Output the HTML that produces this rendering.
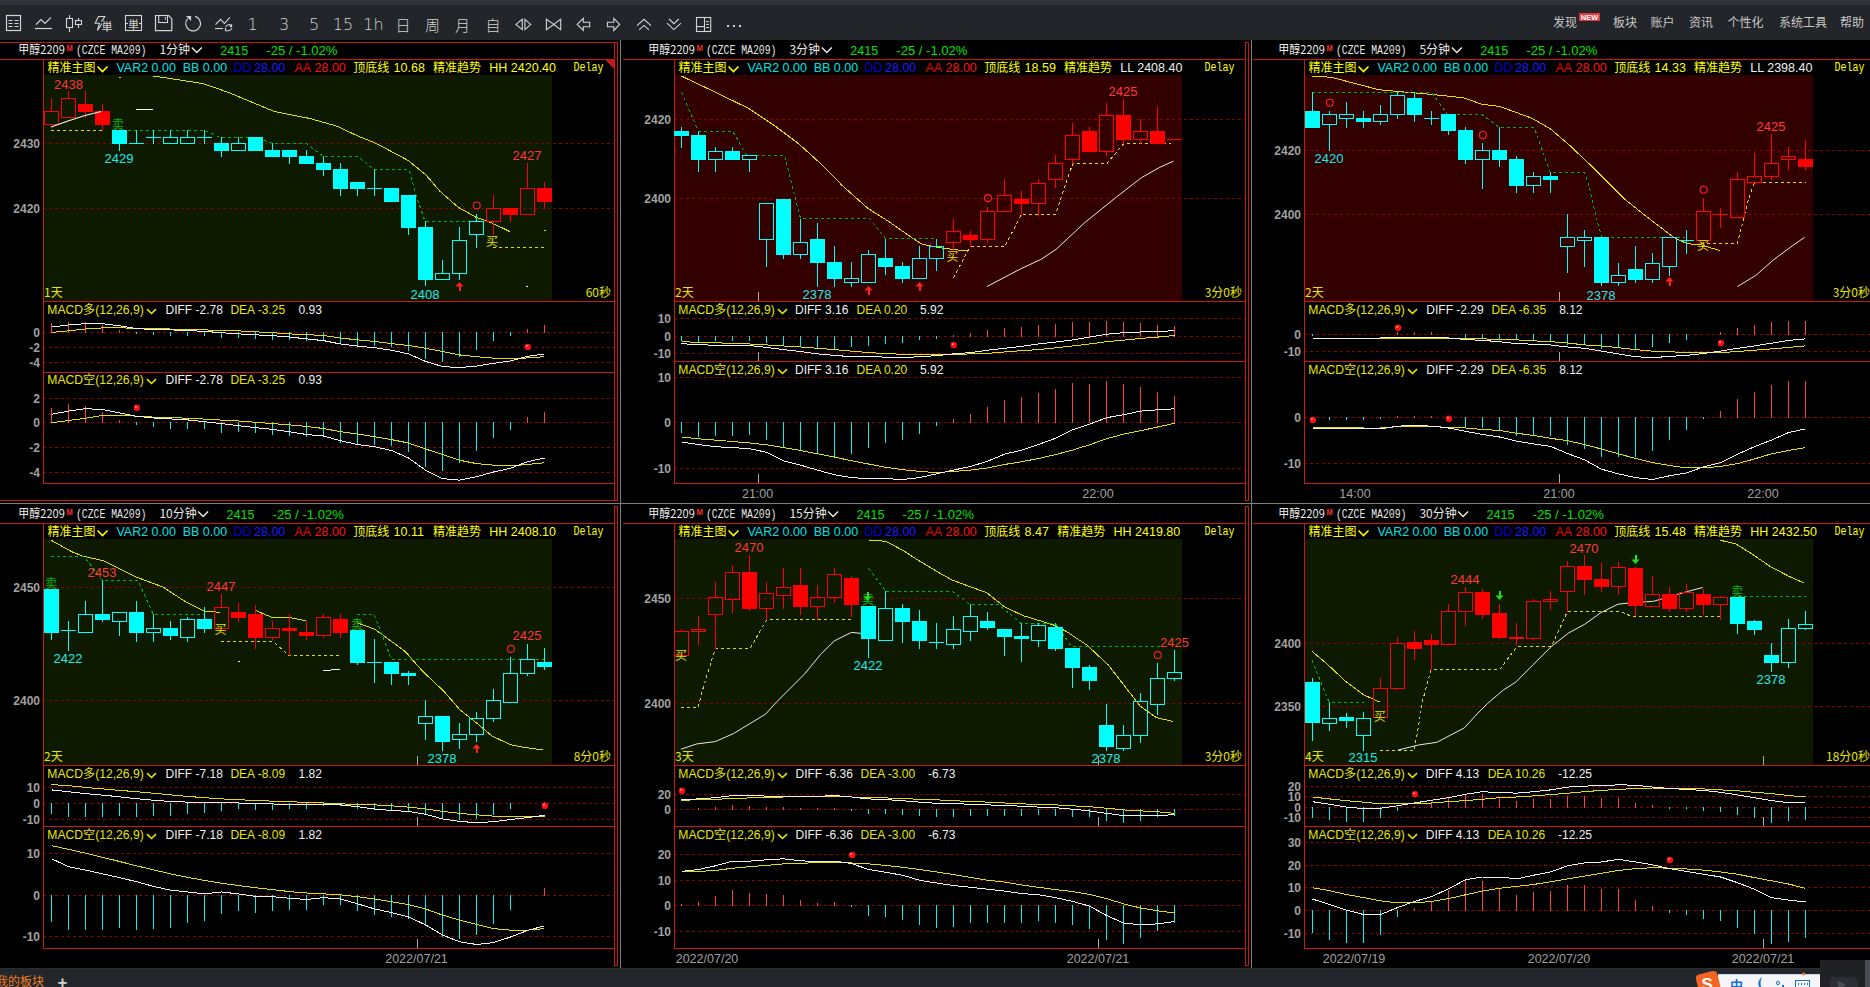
<!DOCTYPE html>
<html><head><meta charset="utf-8"><style>
html,body{margin:0;padding:0;background:#000;overflow:hidden;width:1870px;height:987px}
svg{display:block}
text{white-space:pre}
</style></head><body>
<svg width="1870" height="987" viewBox="0 0 1870 987" shape-rendering="crispEdges">
<rect x="0" y="0" width="1870" height="40" fill="#22252a"/>
<rect x="0" y="0" width="1870" height="5" fill="#2f3238"/>
<rect x="6.5" y="15.5" width="14" height="15" fill="none" stroke="#d4d4d4" stroke-width="1.2" shape-rendering="geometricPrecision"/>
<line x1="8.5" y1="20.5" x2="12.5" y2="20.5" stroke="#d4d4d4" stroke-width="1" shape-rendering="geometricPrecision"/>
<line x1="14.5" y1="20.5" x2="18.5" y2="20.5" stroke="#d4d4d4" stroke-width="1" shape-rendering="geometricPrecision"/>
<line x1="8.5" y1="23.5" x2="12.5" y2="23.5" stroke="#d4d4d4" stroke-width="1" shape-rendering="geometricPrecision"/>
<line x1="14.5" y1="23.5" x2="18.5" y2="23.5" stroke="#d4d4d4" stroke-width="1" shape-rendering="geometricPrecision"/>
<line x1="8.5" y1="26.5" x2="12.5" y2="26.5" stroke="#d4d4d4" stroke-width="1" shape-rendering="geometricPrecision"/>
<line x1="14.5" y1="26.5" x2="18.5" y2="26.5" stroke="#d4d4d4" stroke-width="1" shape-rendering="geometricPrecision"/>
<polyline points="36,24.5 41,19.5 45,23.5 51,17.3" fill="none" stroke="#d4d4d4" stroke-width="1.2" shape-rendering="geometricPrecision" stroke-linejoin="miter"/>
<line x1="35" y1="28.5" x2="52" y2="28.5" stroke="#d4d4d4" stroke-width="1.2" shape-rendering="geometricPrecision"/>
<rect x="66.5" y="18.5" width="6" height="9" fill="none" stroke="#d4d4d4" stroke-width="1.1" shape-rendering="geometricPrecision"/>
<line x1="69.5" y1="15" x2="69.5" y2="18.5" stroke="#d4d4d4" stroke-width="1.1" shape-rendering="geometricPrecision"/>
<line x1="69.5" y1="27.5" x2="69.5" y2="32" stroke="#d4d4d4" stroke-width="1.1" shape-rendering="geometricPrecision"/>
<rect x="75.5" y="20.5" width="6" height="4" fill="none" stroke="#d4d4d4" stroke-width="1.1" shape-rendering="geometricPrecision"/>
<line x1="78.5" y1="18" x2="78.5" y2="20.5" stroke="#d4d4d4" stroke-width="1.1" shape-rendering="geometricPrecision"/>
<line x1="78.5" y1="24.5" x2="78.5" y2="28" stroke="#d4d4d4" stroke-width="1.1" shape-rendering="geometricPrecision"/>
<polygon points="98.5,16.5 104.8,16.5 101.8,21.2 103.5,21.2 97.4,30.5 99.4,23.3 95.2,23.3" fill="none" stroke="#d4d4d4" stroke-width="1.1" shape-rendering="geometricPrecision" stroke-linejoin="miter"/>
<rect x="101.5" y="20.5" width="10" height="12" fill="#22252a"/>
<text x="101.5" y="31" fill="#d4d4d4" font-size="11" font-family='"Noto Sans CJK SC","WenQuanYi Zen Hei",sans-serif'>単</text>
<rect x="125.5" y="15.5" width="16" height="15" fill="none" stroke="#d4d4d4" stroke-width="1.1" shape-rendering="geometricPrecision"/>
<line x1="125.5" y1="23.5" x2="128" y2="23.5" stroke="#d4d4d4" stroke-width="1" shape-rendering="geometricPrecision"/>
<line x1="139" y1="23.5" x2="141.5" y2="23.5" stroke="#d4d4d4" stroke-width="1" shape-rendering="geometricPrecision"/>
<text x="128" y="28.5" fill="#d4d4d4" font-size="11" font-family='"Noto Sans CJK SC","WenQuanYi Zen Hei",sans-serif'>単</text>
<polygon points="155.5,15.5 168.6,15.5 171.8,18.7 171.8,30.7 155.5,30.7" fill="none" stroke="#d4d4d4" stroke-width="1.2" shape-rendering="geometricPrecision" stroke-linejoin="miter"/>
<rect x="158.7" y="15.5" width="8.8" height="7" fill="none" stroke="#d4d4d4" stroke-width="1.1" shape-rendering="geometricPrecision"/>
<line x1="165.4" y1="17" x2="165.4" y2="19.8" stroke="#d4d4d4" stroke-width="1" shape-rendering="geometricPrecision"/>
<path d="M195.1,16.4 A7.4,7.4 0 1 1 187.6,18.6" fill="none" stroke="#d4d4d4" stroke-width="1.2" shape-rendering="geometricPrecision"/>
<polygon points="185.9,15.9 191.1,15.9 191.1,21.1" fill="#d4d4d4" shape-rendering="geometricPrecision"/>
<polyline points="215.5,24.6 220.5,19.3 224.5,23.5 229.9,17.4" fill="none" stroke="#d4d4d4" stroke-width="1.1" shape-rendering="geometricPrecision" stroke-linejoin="miter"/>
<line x1="215" y1="28.5" x2="223" y2="28.5" stroke="#d4d4d4" stroke-width="1.1" shape-rendering="geometricPrecision"/>
<path d="M225.6,26.6 Q228.5,23.2 231.4,25.8" fill="none" stroke="#d4d4d4" stroke-width="1.1" shape-rendering="geometricPrecision"/>
<polygon points="232.1,23.8 232.1,27.4 229.3,26.6" fill="#d4d4d4" shape-rendering="geometricPrecision"/>
<path d="M225.5,27.8 L225.5,30.7 L228.8,30.7 Q230.8,30.4 232,28.3" fill="none" stroke="#d4d4d4" stroke-width="1.1" shape-rendering="geometricPrecision"/>
<text x="252.5" y="30" fill="#d4d4d4" font-size="16" font-family='"DejaVu Sans","Liberation Sans",sans-serif' text-anchor="middle" font-weight="200">1</text>
<text x="284" y="30" fill="#d4d4d4" font-size="16" font-family='"DejaVu Sans","Liberation Sans",sans-serif' text-anchor="middle" font-weight="200">3</text>
<text x="314" y="30" fill="#d4d4d4" font-size="16" font-family='"DejaVu Sans","Liberation Sans",sans-serif' text-anchor="middle" font-weight="200">5</text>
<text x="343" y="30" fill="#d4d4d4" font-size="16" font-family='"DejaVu Sans","Liberation Sans",sans-serif' text-anchor="middle" font-weight="200">15</text>
<text x="373.5" y="30" fill="#d4d4d4" font-size="16" font-family='"DejaVu Sans","Liberation Sans",sans-serif' text-anchor="middle" font-weight="200">1h</text>
<text x="403" y="30.6" fill="#d4d4d4" font-size="15" font-family='"Noto Sans CJK SC","WenQuanYi Zen Hei",sans-serif' text-anchor="middle" font-weight="300">日</text>
<text x="432.5" y="30.6" fill="#d4d4d4" font-size="15" font-family='"Noto Sans CJK SC","WenQuanYi Zen Hei",sans-serif' text-anchor="middle" font-weight="300">周</text>
<text x="462.5" y="30.6" fill="#d4d4d4" font-size="15" font-family='"Noto Sans CJK SC","WenQuanYi Zen Hei",sans-serif' text-anchor="middle" font-weight="300">月</text>
<text x="493" y="30.6" fill="#d4d4d4" font-size="15" font-family='"Noto Sans CJK SC","WenQuanYi Zen Hei",sans-serif' text-anchor="middle" font-weight="300">自</text>
<polygon points="522.3,19.3 515.9,24.4 522.3,29.6" fill="none" stroke="#d4d4d4" stroke-width="1.1" shape-rendering="geometricPrecision" stroke-linejoin="miter"/>
<polygon points="524.9,19.3 530.7,24.4 524.9,29.6" fill="none" stroke="#d4d4d4" stroke-width="1.1" shape-rendering="geometricPrecision" stroke-linejoin="miter"/>
<polygon points="546.4,19.3 553.8,24.4 546.4,29.6" fill="none" stroke="#d4d4d4" stroke-width="1.1" shape-rendering="geometricPrecision" stroke-linejoin="miter"/>
<polygon points="560.7,19.3 553.8,24.4 560.7,29.6" fill="none" stroke="#d4d4d4" stroke-width="1.1" shape-rendering="geometricPrecision" stroke-linejoin="miter"/>
<polygon points="577.2,24.4 583.3,18.3 583.3,22.2 589.7,22.2 589.7,26.8 583.3,26.8 583.3,30.5" fill="none" stroke="#d4d4d4" stroke-width="1.1" shape-rendering="geometricPrecision" stroke-linejoin="miter"/>
<polygon points="619.6,24.4 613.8,18.3 613.8,22.2 607.4,22.2 607.4,26.8 613.8,26.8 613.8,30.5" fill="none" stroke="#d4d4d4" stroke-width="1.1" shape-rendering="geometricPrecision" stroke-linejoin="miter"/>
<polyline points="637,25.7 644,19.3 651,25.7" fill="none" stroke="#d4d4d4" stroke-width="1.1" shape-rendering="geometricPrecision" stroke-linejoin="miter"/>
<polyline points="639.2,29.9 644,25.4 648.9,29.9" fill="none" stroke="#d4d4d4" stroke-width="1.1" shape-rendering="geometricPrecision" stroke-linejoin="miter"/>
<polyline points="669.1,19 673.9,23.7 678.8,19" fill="none" stroke="#d4d4d4" stroke-width="1.1" shape-rendering="geometricPrecision" stroke-linejoin="miter"/>
<polyline points="667,23.2 673.9,29.6 681,23.2" fill="none" stroke="#d4d4d4" stroke-width="1.1" shape-rendering="geometricPrecision" stroke-linejoin="miter"/>
<rect x="696.5" y="17.5" width="14.2" height="14" fill="none" stroke="#d4d4d4" stroke-width="1.1" shape-rendering="geometricPrecision"/>
<line x1="704.5" y1="17.5" x2="704.5" y2="31.5" stroke="#d4d4d4" stroke-width="1.1" shape-rendering="geometricPrecision"/>
<line x1="696.5" y1="26.6" x2="704.5" y2="26.6" stroke="#d4d4d4" stroke-width="1.1" shape-rendering="geometricPrecision"/>
<line x1="706" y1="21.6" x2="709" y2="21.6" stroke="#d4d4d4" stroke-width="1" shape-rendering="geometricPrecision"/>
<line x1="706" y1="24.4" x2="709" y2="24.4" stroke="#d4d4d4" stroke-width="1" shape-rendering="geometricPrecision"/>
<line x1="706" y1="27.5" x2="709" y2="27.5" stroke="#d4d4d4" stroke-width="1" shape-rendering="geometricPrecision"/>
<rect x="726.5999999999999" y="24.7" width="2.4" height="2.4" fill="#d4d4d4"/>
<rect x="732.6999999999999" y="24.7" width="2.4" height="2.4" fill="#d4d4d4"/>
<rect x="738.8" y="24.7" width="2.4" height="2.4" fill="#d4d4d4"/>
<text x="1553" y="27" fill="#c8c8c8" font-size="12" font-family='"Noto Sans CJK SC","WenQuanYi Zen Hei",sans-serif'>发现</text>
<text x="1613" y="27" fill="#c8c8c8" font-size="12" font-family='"Noto Sans CJK SC","WenQuanYi Zen Hei",sans-serif'>板块</text>
<text x="1650.5" y="27" fill="#c8c8c8" font-size="12" font-family='"Noto Sans CJK SC","WenQuanYi Zen Hei",sans-serif'>账户</text>
<text x="1689" y="27" fill="#c8c8c8" font-size="12" font-family='"Noto Sans CJK SC","WenQuanYi Zen Hei",sans-serif'>资讯</text>
<text x="1727.5" y="27" fill="#c8c8c8" font-size="12" font-family='"Noto Sans CJK SC","WenQuanYi Zen Hei",sans-serif'>个性化</text>
<text x="1779" y="27" fill="#c8c8c8" font-size="12" font-family='"Noto Sans CJK SC","WenQuanYi Zen Hei",sans-serif'>系统工具</text>
<text x="1840" y="27" fill="#c8c8c8" font-size="12" font-family='"Noto Sans CJK SC","WenQuanYi Zen Hei",sans-serif'>帮助</text>
<rect x="1579" y="12.5" width="21" height="8" fill="#e0393e"/>
<text x="1589.5" y="19.6" fill="#ffffff" font-size="7.5" font-family='"Liberation Sans","Noto Sans CJK SC",sans-serif' text-anchor="middle" font-weight="bold">NEW</text>
<rect x="44" y="75" width="508" height="226" fill="#0e1a00"/>
<line x1="43" y1="143.5" x2="614" y2="143.5" stroke="#8c0000" stroke-width="1" stroke-dasharray="3,3"/>
<text x="40" y="148.0" fill="#a0a0a0" font-size="12" font-family='"Liberation Sans","Noto Sans CJK SC",sans-serif' text-anchor="end" font-weight="bold">2430</text>
<line x1="43" y1="208.5" x2="614" y2="208.5" stroke="#8c0000" stroke-width="1" stroke-dasharray="3,3"/>
<text x="40" y="212.5" fill="#a0a0a0" font-size="12" font-family='"Liberation Sans","Noto Sans CJK SC",sans-serif' text-anchor="end" font-weight="bold">2420</text>
<line x1="43" y1="332.5" x2="614" y2="332.5" stroke="#8c0000" stroke-width="1" stroke-dasharray="3,3"/>
<text x="40" y="336.5" fill="#a0a0a0" font-size="12" font-family='"Liberation Sans","Noto Sans CJK SC",sans-serif' text-anchor="end" font-weight="bold">0</text>
<line x1="43" y1="347.5" x2="614" y2="347.5" stroke="#8c0000" stroke-width="1" stroke-dasharray="3,3"/>
<text x="40" y="351.9" fill="#a0a0a0" font-size="12" font-family='"Liberation Sans","Noto Sans CJK SC",sans-serif' text-anchor="end" font-weight="bold">-2</text>
<line x1="43" y1="362.5" x2="614" y2="362.5" stroke="#8c0000" stroke-width="1" stroke-dasharray="3,3"/>
<text x="40" y="366.8" fill="#a0a0a0" font-size="12" font-family='"Liberation Sans","Noto Sans CJK SC",sans-serif' text-anchor="end" font-weight="bold">-4</text>
<text x="47.3" y="314.0" fill="#e6e600" font-size="12" font-family='"Liberation Sans","Noto Sans CJK SC",sans-serif' textLength="96.5" lengthAdjust="spacingAndGlyphs">MACD多(12,26,9)</text>
<polyline points="147,309.2 151.5,313.5 156,309.2" fill="none" stroke="#e6e600" stroke-width="1.6" shape-rendering="geometricPrecision"/>
<text x="165.5" y="314.0" fill="#f0f0f0" font-size="12" font-family='"Liberation Sans","Noto Sans CJK SC",sans-serif'>DIFF -2.78</text>
<text x="230.4" y="314.0" fill="#e6e600" font-size="12" font-family='"Liberation Sans","Noto Sans CJK SC",sans-serif'>DEA -3.25</text>
<text x="298.5" y="314.0" fill="#f0f0f0" font-size="12" font-family='"Liberation Sans","Noto Sans CJK SC",sans-serif'>0.93</text>
<line x1="43" y1="398.5" x2="614" y2="398.5" stroke="#8c0000" stroke-width="1" stroke-dasharray="3,3"/>
<text x="40" y="402.5" fill="#a0a0a0" font-size="12" font-family='"Liberation Sans","Noto Sans CJK SC",sans-serif' text-anchor="end" font-weight="bold">2</text>
<line x1="43" y1="422.5" x2="614" y2="422.5" stroke="#8c0000" stroke-width="1" stroke-dasharray="3,3"/>
<text x="40" y="427.0" fill="#a0a0a0" font-size="12" font-family='"Liberation Sans","Noto Sans CJK SC",sans-serif' text-anchor="end" font-weight="bold">0</text>
<line x1="43" y1="447.5" x2="614" y2="447.5" stroke="#8c0000" stroke-width="1" stroke-dasharray="3,3"/>
<text x="40" y="452.2" fill="#a0a0a0" font-size="12" font-family='"Liberation Sans","Noto Sans CJK SC",sans-serif' text-anchor="end" font-weight="bold">-2</text>
<line x1="43" y1="472.5" x2="614" y2="472.5" stroke="#8c0000" stroke-width="1" stroke-dasharray="3,3"/>
<text x="40" y="477.1" fill="#a0a0a0" font-size="12" font-family='"Liberation Sans","Noto Sans CJK SC",sans-serif' text-anchor="end" font-weight="bold">-4</text>
<text x="47.3" y="384.0" fill="#e6e600" font-size="12" font-family='"Liberation Sans","Noto Sans CJK SC",sans-serif' textLength="96.5" lengthAdjust="spacingAndGlyphs">MACD空(12,26,9)</text>
<polyline points="147,379.2 151.5,383.5 156,379.2" fill="none" stroke="#e6e600" stroke-width="1.6" shape-rendering="geometricPrecision"/>
<text x="165.5" y="384.0" fill="#f0f0f0" font-size="12" font-family='"Liberation Sans","Noto Sans CJK SC",sans-serif'>DIFF -2.78</text>
<text x="230.4" y="384.0" fill="#e6e600" font-size="12" font-family='"Liberation Sans","Noto Sans CJK SC",sans-serif'>DEA -3.25</text>
<text x="298.5" y="384.0" fill="#f0f0f0" font-size="12" font-family='"Liberation Sans","Noto Sans CJK SC",sans-serif'>0.93</text>
<text x="18.3" y="54" fill="#e8e8e8" font-size="12" font-family='"Noto Sans CJK SC","WenQuanYi Zen Hei",sans-serif' textLength="46.5" lengthAdjust="spacingAndGlyphs">甲醇2209</text>
<text x="66.6" y="50.7" fill="#ff2a2a" font-size="9.5" font-family='"Liberation Sans","Noto Sans CJK SC",sans-serif' font-weight="bold" textLength="6.2" lengthAdjust="spacingAndGlyphs">M</text>
<text x="76" y="54" fill="#e8e8e8" font-size="12" font-family='"Liberation Mono","Noto Sans CJK SC",monospace' textLength="70.5" lengthAdjust="spacingAndGlyphs">(CZCE MA209)</text>
<text x="159.4" y="54" fill="#e8e8e8" font-size="12" font-family='"Noto Sans CJK SC","WenQuanYi Zen Hei",sans-serif'>1分钟</text>
<polyline points="191.8,47.5 196.8,52.5 201.8,47.5" fill="none" stroke="#e8e8e8" stroke-width="1.5" shape-rendering="geometricPrecision"/>
<text x="220.3" y="54.5" fill="#00e000" font-size="12.5" font-family='"Liberation Sans","Noto Sans CJK SC",sans-serif'>2415</text>
<text x="266.3" y="54.5" fill="#00e000" font-size="12.5" font-family='"Liberation Sans","Noto Sans CJK SC",sans-serif' textLength="71.2" lengthAdjust="spacingAndGlyphs">-25 / -1.02%</text>
<text x="47.6" y="71.8" fill="#ffff00" font-size="12" font-family='"Noto Sans CJK SC","WenQuanYi Zen Hei",sans-serif'>精准主图</text>
<polyline points="97.5,66.5 102.5,71.5 107.5,66.5" fill="none" stroke="#ffff00" stroke-width="1.6" shape-rendering="geometricPrecision"/>
<text x="116.4" y="71.8" fill="#00e0e0" font-size="12.5" font-family='"Liberation Sans","Noto Sans CJK SC",sans-serif'>VAR2 0.00</text>
<text x="182.7" y="71.8" fill="#00e0e0" font-size="12.5" font-family='"Liberation Sans","Noto Sans CJK SC",sans-serif'>BB 0.00</text>
<text x="233.6" y="71.8" fill="#0000d8" font-size="12.5" font-family='"Liberation Sans","Noto Sans CJK SC",sans-serif'>DD</text>
<text x="254" y="71.8" fill="#1a1aff" font-size="12.5" font-family='"Liberation Sans","Noto Sans CJK SC",sans-serif'>28.00</text>
<text x="294.5" y="71.8" fill="#e80000" font-size="12.5" font-family='"Liberation Sans","Noto Sans CJK SC",sans-serif'>AA</text>
<text x="314.5" y="71.8" fill="#ff1010" font-size="12.5" font-family='"Liberation Sans","Noto Sans CJK SC",sans-serif'>28.00</text>
<text x="353.2" y="71.8" fill="#ffff00" font-size="12" font-family='"Noto Sans CJK SC","WenQuanYi Zen Hei",sans-serif'>顶底线</text>
<text x="393.6" y="71.8" fill="#ffff00" font-size="12.5" font-family='"Liberation Sans","Noto Sans CJK SC",sans-serif'>10.68</text>
<text x="433" y="71.8" fill="#ffff00" font-size="12" font-family='"Noto Sans CJK SC","WenQuanYi Zen Hei",sans-serif'>精准趋势</text>
<text x="489.3" y="71.8" fill="#ffff00" font-size="12.5" font-family='"Liberation Sans","Noto Sans CJK SC",sans-serif'>HH 2420.40</text>
<text x="573.5" y="71.3" fill="#ffff00" font-size="12" font-family='"Liberation Mono","Noto Sans CJK SC",monospace' textLength="30" lengthAdjust="spacingAndGlyphs">Delay</text>
<polygon points="605,60 614,60 614,69" fill="#c81810"/>
<line x1="0" y1="59.5" x2="614" y2="59.5" stroke="#c81810" stroke-width="1"/>
<line x1="43" y1="301.5" x2="614" y2="301.5" stroke="#c81810" stroke-width="1"/>
<line x1="43" y1="372.5" x2="614" y2="372.5" stroke="#c81810" stroke-width="1"/>
<line x1="43" y1="483.5" x2="614" y2="483.5" stroke="#c81810" stroke-width="1"/>
<line x1="43.5" y1="59" x2="43.5" y2="483" stroke="#c81810" stroke-width="1"/>
<line x1="614.5" y1="42" x2="614.5" y2="501" stroke="#c81810" stroke-width="1"/>
<line x1="617.5" y1="42" x2="617.5" y2="501" stroke="#c81810" stroke-width="1"/>
<line x1="614" y1="42.5" x2="618" y2="42.5" stroke="#c81810" stroke-width="1"/>
<line x1="614" y1="500.5" x2="618" y2="500.5" stroke="#c81810" stroke-width="1"/>
<text x="44" y="297" fill="#e6e600" font-size="12" font-family='"Noto Sans CJK SC","WenQuanYi Zen Hei",sans-serif'>1天</text>
<text x="611" y="297" fill="#e6e600" font-size="12" font-family='"Noto Sans CJK SC","WenQuanYi Zen Hei",sans-serif' text-anchor="end">60秒</text>
<rect x="675" y="75" width="506.5" height="226" fill="#330000"/>
<line x1="674" y1="119.5" x2="1245" y2="119.5" stroke="#8c0000" stroke-width="1" stroke-dasharray="3,3"/>
<text x="671" y="124.0" fill="#a0a0a0" font-size="12" font-family='"Liberation Sans","Noto Sans CJK SC",sans-serif' text-anchor="end" font-weight="bold">2420</text>
<line x1="674" y1="198.5" x2="1245" y2="198.5" stroke="#8c0000" stroke-width="1" stroke-dasharray="3,3"/>
<text x="671" y="203.0" fill="#a0a0a0" font-size="12" font-family='"Liberation Sans","Noto Sans CJK SC",sans-serif' text-anchor="end" font-weight="bold">2400</text>
<line x1="674" y1="318.5" x2="1245" y2="318.5" stroke="#8c0000" stroke-width="1" stroke-dasharray="3,3"/>
<text x="671" y="322.8" fill="#a0a0a0" font-size="12" font-family='"Liberation Sans","Noto Sans CJK SC",sans-serif' text-anchor="end" font-weight="bold">10</text>
<line x1="674" y1="336.5" x2="1245" y2="336.5" stroke="#8c0000" stroke-width="1" stroke-dasharray="3,3"/>
<text x="671" y="341.0" fill="#a0a0a0" font-size="12" font-family='"Liberation Sans","Noto Sans CJK SC",sans-serif' text-anchor="end" font-weight="bold">0</text>
<line x1="674" y1="353.5" x2="1245" y2="353.5" stroke="#8c0000" stroke-width="1" stroke-dasharray="3,3"/>
<text x="671" y="357.9" fill="#a0a0a0" font-size="12" font-family='"Liberation Sans","Noto Sans CJK SC",sans-serif' text-anchor="end" font-weight="bold">-10</text>
<text x="678.3" y="314.0" fill="#e6e600" font-size="12" font-family='"Liberation Sans","Noto Sans CJK SC",sans-serif' textLength="96.5" lengthAdjust="spacingAndGlyphs">MACD多(12,26,9)</text>
<polyline points="778,309.2 782.5,313.5 787,309.2" fill="none" stroke="#e6e600" stroke-width="1.6" shape-rendering="geometricPrecision"/>
<text x="795" y="314.0" fill="#f0f0f0" font-size="12" font-family='"Liberation Sans","Noto Sans CJK SC",sans-serif'>DIFF 3.16</text>
<text x="856.6" y="314.0" fill="#e6e600" font-size="12" font-family='"Liberation Sans","Noto Sans CJK SC",sans-serif'>DEA 0.20</text>
<text x="920" y="314.0" fill="#f0f0f0" font-size="12" font-family='"Liberation Sans","Noto Sans CJK SC",sans-serif'>5.92</text>
<line x1="674" y1="377.5" x2="1245" y2="377.5" stroke="#8c0000" stroke-width="1" stroke-dasharray="3,3"/>
<text x="671" y="382.0" fill="#a0a0a0" font-size="12" font-family='"Liberation Sans","Noto Sans CJK SC",sans-serif' text-anchor="end" font-weight="bold">10</text>
<line x1="674" y1="422.5" x2="1245" y2="422.5" stroke="#8c0000" stroke-width="1" stroke-dasharray="3,3"/>
<text x="671" y="426.9" fill="#a0a0a0" font-size="12" font-family='"Liberation Sans","Noto Sans CJK SC",sans-serif' text-anchor="end" font-weight="bold">0</text>
<line x1="674" y1="468.5" x2="1245" y2="468.5" stroke="#8c0000" stroke-width="1" stroke-dasharray="3,3"/>
<text x="671" y="473.0" fill="#a0a0a0" font-size="12" font-family='"Liberation Sans","Noto Sans CJK SC",sans-serif' text-anchor="end" font-weight="bold">-10</text>
<text x="678.3" y="374.0" fill="#e6e600" font-size="12" font-family='"Liberation Sans","Noto Sans CJK SC",sans-serif' textLength="96.5" lengthAdjust="spacingAndGlyphs">MACD空(12,26,9)</text>
<polyline points="778,369.2 782.5,373.5 787,369.2" fill="none" stroke="#e6e600" stroke-width="1.6" shape-rendering="geometricPrecision"/>
<text x="795" y="374.0" fill="#f0f0f0" font-size="12" font-family='"Liberation Sans","Noto Sans CJK SC",sans-serif'>DIFF 3.16</text>
<text x="856.6" y="374.0" fill="#e6e600" font-size="12" font-family='"Liberation Sans","Noto Sans CJK SC",sans-serif'>DEA 0.20</text>
<text x="920" y="374.0" fill="#f0f0f0" font-size="12" font-family='"Liberation Sans","Noto Sans CJK SC",sans-serif'>5.92</text>
<text x="648.3" y="54" fill="#e8e8e8" font-size="12" font-family='"Noto Sans CJK SC","WenQuanYi Zen Hei",sans-serif' textLength="46.5" lengthAdjust="spacingAndGlyphs">甲醇2209</text>
<text x="696.6" y="50.7" fill="#ff2a2a" font-size="9.5" font-family='"Liberation Sans","Noto Sans CJK SC",sans-serif' font-weight="bold" textLength="6.2" lengthAdjust="spacingAndGlyphs">M</text>
<text x="706" y="54" fill="#e8e8e8" font-size="12" font-family='"Liberation Mono","Noto Sans CJK SC",monospace' textLength="70.5" lengthAdjust="spacingAndGlyphs">(CZCE MA209)</text>
<text x="789.4" y="54" fill="#e8e8e8" font-size="12" font-family='"Noto Sans CJK SC","WenQuanYi Zen Hei",sans-serif'>3分钟</text>
<polyline points="821.8,47.5 826.8,52.5 831.8,47.5" fill="none" stroke="#e8e8e8" stroke-width="1.5" shape-rendering="geometricPrecision"/>
<text x="850.3" y="54.5" fill="#00e000" font-size="12.5" font-family='"Liberation Sans","Noto Sans CJK SC",sans-serif'>2415</text>
<text x="896.3" y="54.5" fill="#00e000" font-size="12.5" font-family='"Liberation Sans","Noto Sans CJK SC",sans-serif' textLength="71.2" lengthAdjust="spacingAndGlyphs">-25 / -1.02%</text>
<text x="678.6" y="71.8" fill="#ffff00" font-size="12" font-family='"Noto Sans CJK SC","WenQuanYi Zen Hei",sans-serif'>精准主图</text>
<polyline points="728.5,66.5 733.5,71.5 738.5,66.5" fill="none" stroke="#ffff00" stroke-width="1.6" shape-rendering="geometricPrecision"/>
<text x="747.4" y="71.8" fill="#00e0e0" font-size="12.5" font-family='"Liberation Sans","Noto Sans CJK SC",sans-serif'>VAR2 0.00</text>
<text x="813.7" y="71.8" fill="#00e0e0" font-size="12.5" font-family='"Liberation Sans","Noto Sans CJK SC",sans-serif'>BB 0.00</text>
<text x="864.6" y="71.8" fill="#0000d8" font-size="12.5" font-family='"Liberation Sans","Noto Sans CJK SC",sans-serif'>DD</text>
<text x="885" y="71.8" fill="#1a1aff" font-size="12.5" font-family='"Liberation Sans","Noto Sans CJK SC",sans-serif'>28.00</text>
<text x="925.5" y="71.8" fill="#e80000" font-size="12.5" font-family='"Liberation Sans","Noto Sans CJK SC",sans-serif'>AA</text>
<text x="945.5" y="71.8" fill="#ff1010" font-size="12.5" font-family='"Liberation Sans","Noto Sans CJK SC",sans-serif'>28.00</text>
<text x="984.2" y="71.8" fill="#ffff00" font-size="12" font-family='"Noto Sans CJK SC","WenQuanYi Zen Hei",sans-serif'>顶底线</text>
<text x="1024.6" y="71.8" fill="#ffff00" font-size="12.5" font-family='"Liberation Sans","Noto Sans CJK SC",sans-serif'>18.59</text>
<text x="1064" y="71.8" fill="#ffff00" font-size="12" font-family='"Noto Sans CJK SC","WenQuanYi Zen Hei",sans-serif'>精准趋势</text>
<text x="1120.3" y="71.8" fill="#f0f0f0" font-size="12.5" font-family='"Liberation Sans","Noto Sans CJK SC",sans-serif'>LL 2408.40</text>
<text x="1204.5" y="71.3" fill="#ffff00" font-size="12" font-family='"Liberation Mono","Noto Sans CJK SC",monospace' textLength="30" lengthAdjust="spacingAndGlyphs">Delay</text>
<line x1="623" y1="59.5" x2="1245" y2="59.5" stroke="#c81810" stroke-width="1"/>
<line x1="674" y1="301.5" x2="1245" y2="301.5" stroke="#c81810" stroke-width="1"/>
<line x1="674" y1="361.5" x2="1245" y2="361.5" stroke="#c81810" stroke-width="1"/>
<line x1="674" y1="483.5" x2="1245" y2="483.5" stroke="#c81810" stroke-width="1"/>
<line x1="674.5" y1="59" x2="674.5" y2="483" stroke="#c81810" stroke-width="1"/>
<line x1="1245.5" y1="42" x2="1245.5" y2="501" stroke="#c81810" stroke-width="1"/>
<line x1="1248.5" y1="42" x2="1248.5" y2="501" stroke="#c81810" stroke-width="1"/>
<line x1="1245" y1="42.5" x2="1249" y2="42.5" stroke="#c81810" stroke-width="1"/>
<line x1="1245" y1="500.5" x2="1249" y2="500.5" stroke="#c81810" stroke-width="1"/>
<text x="675" y="297" fill="#e6e600" font-size="12" font-family='"Noto Sans CJK SC","WenQuanYi Zen Hei",sans-serif'>2天</text>
<text x="1242" y="297" fill="#e6e600" font-size="12" font-family='"Noto Sans CJK SC","WenQuanYi Zen Hei",sans-serif' text-anchor="end">3分0秒</text>
<text x="757.6" y="498" fill="#a0a0a0" font-size="12.5" font-family='"Liberation Sans","Noto Sans CJK SC",sans-serif' text-anchor="middle">21:00</text>
<text x="1098" y="498" fill="#a0a0a0" font-size="12.5" font-family='"Liberation Sans","Noto Sans CJK SC",sans-serif' text-anchor="middle">22:00</text>
<rect x="758" y="292" width="1" height="9" fill="#a8a8a8"/>
<rect x="758" y="352" width="1" height="9" fill="#a8a8a8"/>
<rect x="758" y="474" width="1" height="9" fill="#a8a8a8"/>
<rect x="1305" y="75" width="508" height="226" fill="#330000"/>
<line x1="1304" y1="150.5" x2="1875" y2="150.5" stroke="#8c0000" stroke-width="1" stroke-dasharray="3,3"/>
<text x="1301" y="154.5" fill="#a0a0a0" font-size="12" font-family='"Liberation Sans","Noto Sans CJK SC",sans-serif' text-anchor="end" font-weight="bold">2420</text>
<line x1="1304" y1="214.5" x2="1875" y2="214.5" stroke="#8c0000" stroke-width="1" stroke-dasharray="3,3"/>
<text x="1301" y="218.5" fill="#a0a0a0" font-size="12" font-family='"Liberation Sans","Noto Sans CJK SC",sans-serif' text-anchor="end" font-weight="bold">2400</text>
<line x1="1304" y1="334.5" x2="1875" y2="334.5" stroke="#8c0000" stroke-width="1" stroke-dasharray="3,3"/>
<text x="1301" y="338.8" fill="#a0a0a0" font-size="12" font-family='"Liberation Sans","Noto Sans CJK SC",sans-serif' text-anchor="end" font-weight="bold">0</text>
<line x1="1304" y1="351.5" x2="1875" y2="351.5" stroke="#8c0000" stroke-width="1" stroke-dasharray="3,3"/>
<text x="1301" y="355.7" fill="#a0a0a0" font-size="12" font-family='"Liberation Sans","Noto Sans CJK SC",sans-serif' text-anchor="end" font-weight="bold">-10</text>
<text x="1308.3" y="314.0" fill="#e6e600" font-size="12" font-family='"Liberation Sans","Noto Sans CJK SC",sans-serif' textLength="96.5" lengthAdjust="spacingAndGlyphs">MACD多(12,26,9)</text>
<polyline points="1408,309.2 1412.5,313.5 1417,309.2" fill="none" stroke="#e6e600" stroke-width="1.6" shape-rendering="geometricPrecision"/>
<text x="1426.3" y="314.0" fill="#f0f0f0" font-size="12" font-family='"Liberation Sans","Noto Sans CJK SC",sans-serif'>DIFF -2.29</text>
<text x="1491.4" y="314.0" fill="#e6e600" font-size="12" font-family='"Liberation Sans","Noto Sans CJK SC",sans-serif'>DEA -6.35</text>
<text x="1559.2" y="314.0" fill="#f0f0f0" font-size="12" font-family='"Liberation Sans","Noto Sans CJK SC",sans-serif'>8.12</text>
<line x1="1304" y1="417.5" x2="1875" y2="417.5" stroke="#8c0000" stroke-width="1" stroke-dasharray="3,3"/>
<text x="1301" y="422.0" fill="#a0a0a0" font-size="12" font-family='"Liberation Sans","Noto Sans CJK SC",sans-serif' text-anchor="end" font-weight="bold">0</text>
<line x1="1304" y1="463.5" x2="1875" y2="463.5" stroke="#8c0000" stroke-width="1" stroke-dasharray="3,3"/>
<text x="1301" y="467.9" fill="#a0a0a0" font-size="12" font-family='"Liberation Sans","Noto Sans CJK SC",sans-serif' text-anchor="end" font-weight="bold">-10</text>
<text x="1308.3" y="374.0" fill="#e6e600" font-size="12" font-family='"Liberation Sans","Noto Sans CJK SC",sans-serif' textLength="96.5" lengthAdjust="spacingAndGlyphs">MACD空(12,26,9)</text>
<polyline points="1408,369.2 1412.5,373.5 1417,369.2" fill="none" stroke="#e6e600" stroke-width="1.6" shape-rendering="geometricPrecision"/>
<text x="1426.3" y="374.0" fill="#f0f0f0" font-size="12" font-family='"Liberation Sans","Noto Sans CJK SC",sans-serif'>DIFF -2.29</text>
<text x="1491.4" y="374.0" fill="#e6e600" font-size="12" font-family='"Liberation Sans","Noto Sans CJK SC",sans-serif'>DEA -6.35</text>
<text x="1559.2" y="374.0" fill="#f0f0f0" font-size="12" font-family='"Liberation Sans","Noto Sans CJK SC",sans-serif'>8.12</text>
<text x="1278.3" y="54" fill="#e8e8e8" font-size="12" font-family='"Noto Sans CJK SC","WenQuanYi Zen Hei",sans-serif' textLength="46.5" lengthAdjust="spacingAndGlyphs">甲醇2209</text>
<text x="1326.6" y="50.7" fill="#ff2a2a" font-size="9.5" font-family='"Liberation Sans","Noto Sans CJK SC",sans-serif' font-weight="bold" textLength="6.2" lengthAdjust="spacingAndGlyphs">M</text>
<text x="1336" y="54" fill="#e8e8e8" font-size="12" font-family='"Liberation Mono","Noto Sans CJK SC",monospace' textLength="70.5" lengthAdjust="spacingAndGlyphs">(CZCE MA209)</text>
<text x="1419.4" y="54" fill="#e8e8e8" font-size="12" font-family='"Noto Sans CJK SC","WenQuanYi Zen Hei",sans-serif'>5分钟</text>
<polyline points="1451.8,47.5 1456.8,52.5 1461.8,47.5" fill="none" stroke="#e8e8e8" stroke-width="1.5" shape-rendering="geometricPrecision"/>
<text x="1480.3" y="54.5" fill="#00e000" font-size="12.5" font-family='"Liberation Sans","Noto Sans CJK SC",sans-serif'>2415</text>
<text x="1526.3" y="54.5" fill="#00e000" font-size="12.5" font-family='"Liberation Sans","Noto Sans CJK SC",sans-serif' textLength="71.2" lengthAdjust="spacingAndGlyphs">-25 / -1.02%</text>
<text x="1308.6" y="71.8" fill="#ffff00" font-size="12" font-family='"Noto Sans CJK SC","WenQuanYi Zen Hei",sans-serif'>精准主图</text>
<polyline points="1358.5,66.5 1363.5,71.5 1368.5,66.5" fill="none" stroke="#ffff00" stroke-width="1.6" shape-rendering="geometricPrecision"/>
<text x="1377.4" y="71.8" fill="#00e0e0" font-size="12.5" font-family='"Liberation Sans","Noto Sans CJK SC",sans-serif'>VAR2 0.00</text>
<text x="1443.7" y="71.8" fill="#00e0e0" font-size="12.5" font-family='"Liberation Sans","Noto Sans CJK SC",sans-serif'>BB 0.00</text>
<text x="1494.6" y="71.8" fill="#0000d8" font-size="12.5" font-family='"Liberation Sans","Noto Sans CJK SC",sans-serif'>DD</text>
<text x="1515" y="71.8" fill="#1a1aff" font-size="12.5" font-family='"Liberation Sans","Noto Sans CJK SC",sans-serif'>28.00</text>
<text x="1555.5" y="71.8" fill="#e80000" font-size="12.5" font-family='"Liberation Sans","Noto Sans CJK SC",sans-serif'>AA</text>
<text x="1575.5" y="71.8" fill="#ff1010" font-size="12.5" font-family='"Liberation Sans","Noto Sans CJK SC",sans-serif'>28.00</text>
<text x="1614.2" y="71.8" fill="#ffff00" font-size="12" font-family='"Noto Sans CJK SC","WenQuanYi Zen Hei",sans-serif'>顶底线</text>
<text x="1654.6" y="71.8" fill="#ffff00" font-size="12.5" font-family='"Liberation Sans","Noto Sans CJK SC",sans-serif'>14.33</text>
<text x="1694" y="71.8" fill="#ffff00" font-size="12" font-family='"Noto Sans CJK SC","WenQuanYi Zen Hei",sans-serif'>精准趋势</text>
<text x="1750.3" y="71.8" fill="#f0f0f0" font-size="12.5" font-family='"Liberation Sans","Noto Sans CJK SC",sans-serif'>LL 2398.40</text>
<text x="1834.5" y="71.3" fill="#ffff00" font-size="12" font-family='"Liberation Mono","Noto Sans CJK SC",monospace' textLength="30" lengthAdjust="spacingAndGlyphs">Delay</text>
<line x1="1253" y1="59.5" x2="1875" y2="59.5" stroke="#c81810" stroke-width="1"/>
<line x1="1304" y1="301.5" x2="1875" y2="301.5" stroke="#c81810" stroke-width="1"/>
<line x1="1304" y1="361.5" x2="1875" y2="361.5" stroke="#c81810" stroke-width="1"/>
<line x1="1304" y1="483.5" x2="1875" y2="483.5" stroke="#c81810" stroke-width="1"/>
<line x1="1304.5" y1="59" x2="1304.5" y2="483" stroke="#c81810" stroke-width="1"/>
<line x1="1875.5" y1="42" x2="1875.5" y2="501" stroke="#c81810" stroke-width="1"/>
<line x1="1878.5" y1="42" x2="1878.5" y2="501" stroke="#c81810" stroke-width="1"/>
<line x1="1875" y1="42.5" x2="1879" y2="42.5" stroke="#c81810" stroke-width="1"/>
<line x1="1875" y1="500.5" x2="1879" y2="500.5" stroke="#c81810" stroke-width="1"/>
<text x="1305" y="297" fill="#e6e600" font-size="12" font-family='"Noto Sans CJK SC","WenQuanYi Zen Hei",sans-serif'>2天</text>
<text x="1870" y="297" fill="#e6e600" font-size="12" font-family='"Noto Sans CJK SC","WenQuanYi Zen Hei",sans-serif' text-anchor="end">3分0秒</text>
<text x="1355" y="498" fill="#a0a0a0" font-size="12.5" font-family='"Liberation Sans","Noto Sans CJK SC",sans-serif' text-anchor="middle">14:00</text>
<text x="1559" y="498" fill="#a0a0a0" font-size="12.5" font-family='"Liberation Sans","Noto Sans CJK SC",sans-serif' text-anchor="middle">21:00</text>
<text x="1763" y="498" fill="#a0a0a0" font-size="12.5" font-family='"Liberation Sans","Noto Sans CJK SC",sans-serif' text-anchor="middle">22:00</text>
<rect x="1559" y="292" width="1" height="9" fill="#a8a8a8"/>
<rect x="1559" y="352" width="1" height="9" fill="#a8a8a8"/>
<rect x="1559" y="474" width="1" height="9" fill="#a8a8a8"/>
<rect x="44" y="539" width="508" height="226" fill="#0e1a00"/>
<line x1="43" y1="587.5" x2="614" y2="587.5" stroke="#8c0000" stroke-width="1" stroke-dasharray="3,3"/>
<text x="40" y="592.0" fill="#a0a0a0" font-size="12" font-family='"Liberation Sans","Noto Sans CJK SC",sans-serif' text-anchor="end" font-weight="bold">2450</text>
<line x1="43" y1="700.5" x2="614" y2="700.5" stroke="#8c0000" stroke-width="1" stroke-dasharray="3,3"/>
<text x="40" y="704.5" fill="#a0a0a0" font-size="12" font-family='"Liberation Sans","Noto Sans CJK SC",sans-serif' text-anchor="end" font-weight="bold">2400</text>
<line x1="43" y1="787.5" x2="614" y2="787.5" stroke="#8c0000" stroke-width="1" stroke-dasharray="3,3"/>
<text x="40" y="792.3" fill="#a0a0a0" font-size="12" font-family='"Liberation Sans","Noto Sans CJK SC",sans-serif' text-anchor="end" font-weight="bold">10</text>
<line x1="43" y1="803.5" x2="614" y2="803.5" stroke="#8c0000" stroke-width="1" stroke-dasharray="3,3"/>
<text x="40" y="807.9" fill="#a0a0a0" font-size="12" font-family='"Liberation Sans","Noto Sans CJK SC",sans-serif' text-anchor="end" font-weight="bold">0</text>
<line x1="43" y1="819.5" x2="614" y2="819.5" stroke="#8c0000" stroke-width="1" stroke-dasharray="3,3"/>
<text x="40" y="824.2" fill="#a0a0a0" font-size="12" font-family='"Liberation Sans","Noto Sans CJK SC",sans-serif' text-anchor="end" font-weight="bold">-10</text>
<text x="47.3" y="778.0" fill="#e6e600" font-size="12" font-family='"Liberation Sans","Noto Sans CJK SC",sans-serif' textLength="96.5" lengthAdjust="spacingAndGlyphs">MACD多(12,26,9)</text>
<polyline points="147,773.2 151.5,777.5 156,773.2" fill="none" stroke="#e6e600" stroke-width="1.6" shape-rendering="geometricPrecision"/>
<text x="165.5" y="778.0" fill="#f0f0f0" font-size="12" font-family='"Liberation Sans","Noto Sans CJK SC",sans-serif'>DIFF -7.18</text>
<text x="230.4" y="778.0" fill="#e6e600" font-size="12" font-family='"Liberation Sans","Noto Sans CJK SC",sans-serif'>DEA -8.09</text>
<text x="298.5" y="778.0" fill="#f0f0f0" font-size="12" font-family='"Liberation Sans","Noto Sans CJK SC",sans-serif'>1.82</text>
<line x1="43" y1="853.5" x2="614" y2="853.5" stroke="#8c0000" stroke-width="1" stroke-dasharray="3,3"/>
<text x="40" y="858.3" fill="#a0a0a0" font-size="12" font-family='"Liberation Sans","Noto Sans CJK SC",sans-serif' text-anchor="end" font-weight="bold">10</text>
<line x1="43" y1="895.5" x2="614" y2="895.5" stroke="#8c0000" stroke-width="1" stroke-dasharray="3,3"/>
<text x="40" y="900.0" fill="#a0a0a0" font-size="12" font-family='"Liberation Sans","Noto Sans CJK SC",sans-serif' text-anchor="end" font-weight="bold">0</text>
<line x1="43" y1="936.5" x2="614" y2="936.5" stroke="#8c0000" stroke-width="1" stroke-dasharray="3,3"/>
<text x="40" y="940.6" fill="#a0a0a0" font-size="12" font-family='"Liberation Sans","Noto Sans CJK SC",sans-serif' text-anchor="end" font-weight="bold">-10</text>
<text x="47.3" y="839.0" fill="#e6e600" font-size="12" font-family='"Liberation Sans","Noto Sans CJK SC",sans-serif' textLength="96.5" lengthAdjust="spacingAndGlyphs">MACD空(12,26,9)</text>
<polyline points="147,834.2 151.5,838.5 156,834.2" fill="none" stroke="#e6e600" stroke-width="1.6" shape-rendering="geometricPrecision"/>
<text x="165.5" y="839.0" fill="#f0f0f0" font-size="12" font-family='"Liberation Sans","Noto Sans CJK SC",sans-serif'>DIFF -7.18</text>
<text x="230.4" y="839.0" fill="#e6e600" font-size="12" font-family='"Liberation Sans","Noto Sans CJK SC",sans-serif'>DEA -8.09</text>
<text x="298.5" y="839.0" fill="#f0f0f0" font-size="12" font-family='"Liberation Sans","Noto Sans CJK SC",sans-serif'>1.82</text>
<text x="18.3" y="518" fill="#e8e8e8" font-size="12" font-family='"Noto Sans CJK SC","WenQuanYi Zen Hei",sans-serif' textLength="46.5" lengthAdjust="spacingAndGlyphs">甲醇2209</text>
<text x="66.6" y="514.7" fill="#ff2a2a" font-size="9.5" font-family='"Liberation Sans","Noto Sans CJK SC",sans-serif' font-weight="bold" textLength="6.2" lengthAdjust="spacingAndGlyphs">M</text>
<text x="76" y="518" fill="#e8e8e8" font-size="12" font-family='"Liberation Mono","Noto Sans CJK SC",monospace' textLength="70.5" lengthAdjust="spacingAndGlyphs">(CZCE MA209)</text>
<text x="159.4" y="518" fill="#e8e8e8" font-size="12" font-family='"Noto Sans CJK SC","WenQuanYi Zen Hei",sans-serif'>10分钟</text>
<polyline points="198.10000000000002,511.5 203.10000000000002,516.5 208.10000000000002,511.5" fill="none" stroke="#e8e8e8" stroke-width="1.5" shape-rendering="geometricPrecision"/>
<text x="226.60000000000002" y="518.5" fill="#00e000" font-size="12.5" font-family='"Liberation Sans","Noto Sans CJK SC",sans-serif'>2415</text>
<text x="272.6" y="518.5" fill="#00e000" font-size="12.5" font-family='"Liberation Sans","Noto Sans CJK SC",sans-serif' textLength="71.2" lengthAdjust="spacingAndGlyphs">-25 / -1.02%</text>
<text x="47.6" y="535.8" fill="#ffff00" font-size="12" font-family='"Noto Sans CJK SC","WenQuanYi Zen Hei",sans-serif'>精准主图</text>
<polyline points="97.5,530.5 102.5,535.5 107.5,530.5" fill="none" stroke="#ffff00" stroke-width="1.6" shape-rendering="geometricPrecision"/>
<text x="116.4" y="535.8" fill="#00e0e0" font-size="12.5" font-family='"Liberation Sans","Noto Sans CJK SC",sans-serif'>VAR2 0.00</text>
<text x="182.7" y="535.8" fill="#00e0e0" font-size="12.5" font-family='"Liberation Sans","Noto Sans CJK SC",sans-serif'>BB 0.00</text>
<text x="233.6" y="535.8" fill="#0000d8" font-size="12.5" font-family='"Liberation Sans","Noto Sans CJK SC",sans-serif'>DD</text>
<text x="254" y="535.8" fill="#1a1aff" font-size="12.5" font-family='"Liberation Sans","Noto Sans CJK SC",sans-serif'>28.00</text>
<text x="294.5" y="535.8" fill="#e80000" font-size="12.5" font-family='"Liberation Sans","Noto Sans CJK SC",sans-serif'>AA</text>
<text x="314.5" y="535.8" fill="#ff1010" font-size="12.5" font-family='"Liberation Sans","Noto Sans CJK SC",sans-serif'>28.00</text>
<text x="353.2" y="535.8" fill="#ffff00" font-size="12" font-family='"Noto Sans CJK SC","WenQuanYi Zen Hei",sans-serif'>顶底线</text>
<text x="393.6" y="535.8" fill="#ffff00" font-size="12.5" font-family='"Liberation Sans","Noto Sans CJK SC",sans-serif'>10.11</text>
<text x="433" y="535.8" fill="#ffff00" font-size="12" font-family='"Noto Sans CJK SC","WenQuanYi Zen Hei",sans-serif'>精准趋势</text>
<text x="489.3" y="535.8" fill="#ffff00" font-size="12.5" font-family='"Liberation Sans","Noto Sans CJK SC",sans-serif'>HH 2408.10</text>
<text x="573.5" y="535.3" fill="#ffff00" font-size="12" font-family='"Liberation Mono","Noto Sans CJK SC",monospace' textLength="30" lengthAdjust="spacingAndGlyphs">Delay</text>
<line x1="0" y1="523.5" x2="614" y2="523.5" stroke="#c81810" stroke-width="1"/>
<line x1="43" y1="765.5" x2="614" y2="765.5" stroke="#c81810" stroke-width="1"/>
<line x1="43" y1="826.5" x2="614" y2="826.5" stroke="#c81810" stroke-width="1"/>
<line x1="43" y1="948.5" x2="614" y2="948.5" stroke="#c81810" stroke-width="1"/>
<line x1="43.5" y1="523" x2="43.5" y2="948" stroke="#c81810" stroke-width="1"/>
<line x1="614.5" y1="506" x2="614.5" y2="966" stroke="#c81810" stroke-width="1"/>
<line x1="617.5" y1="506" x2="617.5" y2="966" stroke="#c81810" stroke-width="1"/>
<line x1="614" y1="506.5" x2="618" y2="506.5" stroke="#c81810" stroke-width="1"/>
<line x1="614" y1="965.5" x2="618" y2="965.5" stroke="#c81810" stroke-width="1"/>
<text x="44" y="761" fill="#e6e600" font-size="12" font-family='"Noto Sans CJK SC","WenQuanYi Zen Hei",sans-serif'>2天</text>
<text x="611" y="761" fill="#e6e600" font-size="12" font-family='"Noto Sans CJK SC","WenQuanYi Zen Hei",sans-serif' text-anchor="end">8分0秒</text>
<text x="416.5" y="963" fill="#a0a0a0" font-size="12.5" font-family='"Liberation Sans","Noto Sans CJK SC",sans-serif' text-anchor="middle">2022/07/21</text>
<rect x="417" y="756" width="1" height="9" fill="#a8a8a8"/>
<rect x="417" y="817" width="1" height="9" fill="#a8a8a8"/>
<rect x="417" y="939" width="1" height="9" fill="#a8a8a8"/>
<rect x="675" y="539" width="506.5" height="226" fill="#0e1a00"/>
<line x1="674" y1="598.5" x2="1245" y2="598.5" stroke="#8c0000" stroke-width="1" stroke-dasharray="3,3"/>
<text x="671" y="603.0" fill="#a0a0a0" font-size="12" font-family='"Liberation Sans","Noto Sans CJK SC",sans-serif' text-anchor="end" font-weight="bold">2450</text>
<line x1="674" y1="703.5" x2="1245" y2="703.5" stroke="#8c0000" stroke-width="1" stroke-dasharray="3,3"/>
<text x="671" y="707.5" fill="#a0a0a0" font-size="12" font-family='"Liberation Sans","Noto Sans CJK SC",sans-serif' text-anchor="end" font-weight="bold">2400</text>
<line x1="674" y1="794.5" x2="1245" y2="794.5" stroke="#8c0000" stroke-width="1" stroke-dasharray="3,3"/>
<text x="671" y="798.5" fill="#a0a0a0" font-size="12" font-family='"Liberation Sans","Noto Sans CJK SC",sans-serif' text-anchor="end" font-weight="bold">20</text>
<line x1="674" y1="809.5" x2="1245" y2="809.5" stroke="#8c0000" stroke-width="1" stroke-dasharray="3,3"/>
<text x="671" y="814.0" fill="#a0a0a0" font-size="12" font-family='"Liberation Sans","Noto Sans CJK SC",sans-serif' text-anchor="end" font-weight="bold">0</text>
<text x="678.3" y="778.0" fill="#e6e600" font-size="12" font-family='"Liberation Sans","Noto Sans CJK SC",sans-serif' textLength="96.5" lengthAdjust="spacingAndGlyphs">MACD多(12,26,9)</text>
<polyline points="778,773.2 782.5,777.5 787,773.2" fill="none" stroke="#e6e600" stroke-width="1.6" shape-rendering="geometricPrecision"/>
<text x="795.5" y="778.0" fill="#f0f0f0" font-size="12" font-family='"Liberation Sans","Noto Sans CJK SC",sans-serif'>DIFF -6.36</text>
<text x="860.5" y="778.0" fill="#e6e600" font-size="12" font-family='"Liberation Sans","Noto Sans CJK SC",sans-serif'>DEA -3.00</text>
<text x="928" y="778.0" fill="#f0f0f0" font-size="12" font-family='"Liberation Sans","Noto Sans CJK SC",sans-serif'>-6.73</text>
<line x1="674" y1="854.5" x2="1245" y2="854.5" stroke="#8c0000" stroke-width="1" stroke-dasharray="3,3"/>
<text x="671" y="858.5" fill="#a0a0a0" font-size="12" font-family='"Liberation Sans","Noto Sans CJK SC",sans-serif' text-anchor="end" font-weight="bold">20</text>
<line x1="674" y1="880.5" x2="1245" y2="880.5" stroke="#8c0000" stroke-width="1" stroke-dasharray="3,3"/>
<text x="671" y="884.5" fill="#a0a0a0" font-size="12" font-family='"Liberation Sans","Noto Sans CJK SC",sans-serif' text-anchor="end" font-weight="bold">10</text>
<line x1="674" y1="905.5" x2="1245" y2="905.5" stroke="#8c0000" stroke-width="1" stroke-dasharray="3,3"/>
<text x="671" y="910.0" fill="#a0a0a0" font-size="12" font-family='"Liberation Sans","Noto Sans CJK SC",sans-serif' text-anchor="end" font-weight="bold">0</text>
<line x1="674" y1="931.5" x2="1245" y2="931.5" stroke="#8c0000" stroke-width="1" stroke-dasharray="3,3"/>
<text x="671" y="936.0" fill="#a0a0a0" font-size="12" font-family='"Liberation Sans","Noto Sans CJK SC",sans-serif' text-anchor="end" font-weight="bold">-10</text>
<text x="678.3" y="839.0" fill="#e6e600" font-size="12" font-family='"Liberation Sans","Noto Sans CJK SC",sans-serif' textLength="96.5" lengthAdjust="spacingAndGlyphs">MACD空(12,26,9)</text>
<polyline points="778,834.2 782.5,838.5 787,834.2" fill="none" stroke="#e6e600" stroke-width="1.6" shape-rendering="geometricPrecision"/>
<text x="795.5" y="839.0" fill="#f0f0f0" font-size="12" font-family='"Liberation Sans","Noto Sans CJK SC",sans-serif'>DIFF -6.36</text>
<text x="860.5" y="839.0" fill="#e6e600" font-size="12" font-family='"Liberation Sans","Noto Sans CJK SC",sans-serif'>DEA -3.00</text>
<text x="928" y="839.0" fill="#f0f0f0" font-size="12" font-family='"Liberation Sans","Noto Sans CJK SC",sans-serif'>-6.73</text>
<text x="648.3" y="518" fill="#e8e8e8" font-size="12" font-family='"Noto Sans CJK SC","WenQuanYi Zen Hei",sans-serif' textLength="46.5" lengthAdjust="spacingAndGlyphs">甲醇2209</text>
<text x="696.6" y="514.7" fill="#ff2a2a" font-size="9.5" font-family='"Liberation Sans","Noto Sans CJK SC",sans-serif' font-weight="bold" textLength="6.2" lengthAdjust="spacingAndGlyphs">M</text>
<text x="706" y="518" fill="#e8e8e8" font-size="12" font-family='"Liberation Mono","Noto Sans CJK SC",monospace' textLength="70.5" lengthAdjust="spacingAndGlyphs">(CZCE MA209)</text>
<text x="789.4" y="518" fill="#e8e8e8" font-size="12" font-family='"Noto Sans CJK SC","WenQuanYi Zen Hei",sans-serif'>15分钟</text>
<polyline points="828.0999999999999,511.5 833.0999999999999,516.5 838.0999999999999,511.5" fill="none" stroke="#e8e8e8" stroke-width="1.5" shape-rendering="geometricPrecision"/>
<text x="856.5999999999999" y="518.5" fill="#00e000" font-size="12.5" font-family='"Liberation Sans","Noto Sans CJK SC",sans-serif'>2415</text>
<text x="902.5999999999999" y="518.5" fill="#00e000" font-size="12.5" font-family='"Liberation Sans","Noto Sans CJK SC",sans-serif' textLength="71.2" lengthAdjust="spacingAndGlyphs">-25 / -1.02%</text>
<text x="678.6" y="535.8" fill="#ffff00" font-size="12" font-family='"Noto Sans CJK SC","WenQuanYi Zen Hei",sans-serif'>精准主图</text>
<polyline points="728.5,530.5 733.5,535.5 738.5,530.5" fill="none" stroke="#ffff00" stroke-width="1.6" shape-rendering="geometricPrecision"/>
<text x="747.4" y="535.8" fill="#00e0e0" font-size="12.5" font-family='"Liberation Sans","Noto Sans CJK SC",sans-serif'>VAR2 0.00</text>
<text x="813.7" y="535.8" fill="#00e0e0" font-size="12.5" font-family='"Liberation Sans","Noto Sans CJK SC",sans-serif'>BB 0.00</text>
<text x="864.6" y="535.8" fill="#0000d8" font-size="12.5" font-family='"Liberation Sans","Noto Sans CJK SC",sans-serif'>DD</text>
<text x="885" y="535.8" fill="#1a1aff" font-size="12.5" font-family='"Liberation Sans","Noto Sans CJK SC",sans-serif'>28.00</text>
<text x="925.5" y="535.8" fill="#e80000" font-size="12.5" font-family='"Liberation Sans","Noto Sans CJK SC",sans-serif'>AA</text>
<text x="945.5" y="535.8" fill="#ff1010" font-size="12.5" font-family='"Liberation Sans","Noto Sans CJK SC",sans-serif'>28.00</text>
<text x="984.2" y="535.8" fill="#ffff00" font-size="12" font-family='"Noto Sans CJK SC","WenQuanYi Zen Hei",sans-serif'>顶底线</text>
<text x="1024.6" y="535.8" fill="#ffff00" font-size="12.5" font-family='"Liberation Sans","Noto Sans CJK SC",sans-serif'>8.47</text>
<text x="1057.2" y="535.8" fill="#ffff00" font-size="12" font-family='"Noto Sans CJK SC","WenQuanYi Zen Hei",sans-serif'>精准趋势</text>
<text x="1113.5" y="535.8" fill="#ffff00" font-size="12.5" font-family='"Liberation Sans","Noto Sans CJK SC",sans-serif'>HH 2419.80</text>
<text x="1204.5" y="535.3" fill="#ffff00" font-size="12" font-family='"Liberation Mono","Noto Sans CJK SC",monospace' textLength="30" lengthAdjust="spacingAndGlyphs">Delay</text>
<line x1="623" y1="523.5" x2="1245" y2="523.5" stroke="#c81810" stroke-width="1"/>
<line x1="674" y1="765.5" x2="1245" y2="765.5" stroke="#c81810" stroke-width="1"/>
<line x1="674" y1="826.5" x2="1245" y2="826.5" stroke="#c81810" stroke-width="1"/>
<line x1="674" y1="948.5" x2="1245" y2="948.5" stroke="#c81810" stroke-width="1"/>
<line x1="674.5" y1="523" x2="674.5" y2="948" stroke="#c81810" stroke-width="1"/>
<line x1="1245.5" y1="506" x2="1245.5" y2="966" stroke="#c81810" stroke-width="1"/>
<line x1="1248.5" y1="506" x2="1248.5" y2="966" stroke="#c81810" stroke-width="1"/>
<line x1="1245" y1="506.5" x2="1249" y2="506.5" stroke="#c81810" stroke-width="1"/>
<line x1="1245" y1="965.5" x2="1249" y2="965.5" stroke="#c81810" stroke-width="1"/>
<text x="675" y="761" fill="#e6e600" font-size="12" font-family='"Noto Sans CJK SC","WenQuanYi Zen Hei",sans-serif'>3天</text>
<text x="1242" y="761" fill="#e6e600" font-size="12" font-family='"Noto Sans CJK SC","WenQuanYi Zen Hei",sans-serif' text-anchor="end">3分0秒</text>
<text x="707" y="963" fill="#a0a0a0" font-size="12.5" font-family='"Liberation Sans","Noto Sans CJK SC",sans-serif' text-anchor="middle">2022/07/20</text>
<text x="1098" y="963" fill="#a0a0a0" font-size="12.5" font-family='"Liberation Sans","Noto Sans CJK SC",sans-serif' text-anchor="middle">2022/07/21</text>
<rect x="1098" y="756" width="1" height="9" fill="#a8a8a8"/>
<rect x="1098" y="817" width="1" height="9" fill="#a8a8a8"/>
<rect x="1098" y="939" width="1" height="9" fill="#a8a8a8"/>
<rect x="1305" y="539" width="508" height="226" fill="#0e1a00"/>
<line x1="1304" y1="643.5" x2="1875" y2="643.5" stroke="#8c0000" stroke-width="1" stroke-dasharray="3,3"/>
<text x="1301" y="648.0" fill="#a0a0a0" font-size="12" font-family='"Liberation Sans","Noto Sans CJK SC",sans-serif' text-anchor="end" font-weight="bold">2400</text>
<line x1="1304" y1="706.5" x2="1875" y2="706.5" stroke="#8c0000" stroke-width="1" stroke-dasharray="3,3"/>
<text x="1301" y="710.5" fill="#a0a0a0" font-size="12" font-family='"Liberation Sans","Noto Sans CJK SC",sans-serif' text-anchor="end" font-weight="bold">2350</text>
<line x1="1304" y1="786.5" x2="1875" y2="786.5" stroke="#8c0000" stroke-width="1" stroke-dasharray="3,3"/>
<text x="1301" y="791.1" fill="#a0a0a0" font-size="12" font-family='"Liberation Sans","Noto Sans CJK SC",sans-serif' text-anchor="end" font-weight="bold">20</text>
<line x1="1304" y1="796.5" x2="1875" y2="796.5" stroke="#8c0000" stroke-width="1" stroke-dasharray="3,3"/>
<text x="1301" y="801.0" fill="#a0a0a0" font-size="12" font-family='"Liberation Sans","Noto Sans CJK SC",sans-serif' text-anchor="end" font-weight="bold">10</text>
<line x1="1304" y1="807.5" x2="1875" y2="807.5" stroke="#8c0000" stroke-width="1" stroke-dasharray="3,3"/>
<text x="1301" y="812.2" fill="#a0a0a0" font-size="12" font-family='"Liberation Sans","Noto Sans CJK SC",sans-serif' text-anchor="end" font-weight="bold">0</text>
<line x1="1304" y1="817.5" x2="1875" y2="817.5" stroke="#8c0000" stroke-width="1" stroke-dasharray="3,3"/>
<text x="1301" y="822.0" fill="#a0a0a0" font-size="12" font-family='"Liberation Sans","Noto Sans CJK SC",sans-serif' text-anchor="end" font-weight="bold">-10</text>
<text x="1308.3" y="778.0" fill="#e6e600" font-size="12" font-family='"Liberation Sans","Noto Sans CJK SC",sans-serif' textLength="96.5" lengthAdjust="spacingAndGlyphs">MACD多(12,26,9)</text>
<polyline points="1408,773.2 1412.5,777.5 1417,773.2" fill="none" stroke="#e6e600" stroke-width="1.6" shape-rendering="geometricPrecision"/>
<text x="1425.8" y="778.0" fill="#f0f0f0" font-size="12" font-family='"Liberation Sans","Noto Sans CJK SC",sans-serif'>DIFF 4.13</text>
<text x="1487.7" y="778.0" fill="#e6e600" font-size="12" font-family='"Liberation Sans","Noto Sans CJK SC",sans-serif'>DEA 10.26</text>
<text x="1558" y="778.0" fill="#f0f0f0" font-size="12" font-family='"Liberation Sans","Noto Sans CJK SC",sans-serif'>-12.25</text>
<line x1="1304" y1="842.5" x2="1875" y2="842.5" stroke="#8c0000" stroke-width="1" stroke-dasharray="3,3"/>
<text x="1301" y="846.9" fill="#a0a0a0" font-size="12" font-family='"Liberation Sans","Noto Sans CJK SC",sans-serif' text-anchor="end" font-weight="bold">30</text>
<line x1="1304" y1="865.5" x2="1875" y2="865.5" stroke="#8c0000" stroke-width="1" stroke-dasharray="3,3"/>
<text x="1301" y="870.2" fill="#a0a0a0" font-size="12" font-family='"Liberation Sans","Noto Sans CJK SC",sans-serif' text-anchor="end" font-weight="bold">20</text>
<line x1="1304" y1="887.5" x2="1875" y2="887.5" stroke="#8c0000" stroke-width="1" stroke-dasharray="3,3"/>
<text x="1301" y="892.3" fill="#a0a0a0" font-size="12" font-family='"Liberation Sans","Noto Sans CJK SC",sans-serif' text-anchor="end" font-weight="bold">10</text>
<line x1="1304" y1="910.5" x2="1875" y2="910.5" stroke="#8c0000" stroke-width="1" stroke-dasharray="3,3"/>
<text x="1301" y="914.8" fill="#a0a0a0" font-size="12" font-family='"Liberation Sans","Noto Sans CJK SC",sans-serif' text-anchor="end" font-weight="bold">0</text>
<line x1="1304" y1="933.5" x2="1875" y2="933.5" stroke="#8c0000" stroke-width="1" stroke-dasharray="3,3"/>
<text x="1301" y="937.8" fill="#a0a0a0" font-size="12" font-family='"Liberation Sans","Noto Sans CJK SC",sans-serif' text-anchor="end" font-weight="bold">-10</text>
<text x="1308.3" y="839.0" fill="#e6e600" font-size="12" font-family='"Liberation Sans","Noto Sans CJK SC",sans-serif' textLength="96.5" lengthAdjust="spacingAndGlyphs">MACD空(12,26,9)</text>
<polyline points="1408,834.2 1412.5,838.5 1417,834.2" fill="none" stroke="#e6e600" stroke-width="1.6" shape-rendering="geometricPrecision"/>
<text x="1425.8" y="839.0" fill="#f0f0f0" font-size="12" font-family='"Liberation Sans","Noto Sans CJK SC",sans-serif'>DIFF 4.13</text>
<text x="1487.7" y="839.0" fill="#e6e600" font-size="12" font-family='"Liberation Sans","Noto Sans CJK SC",sans-serif'>DEA 10.26</text>
<text x="1558" y="839.0" fill="#f0f0f0" font-size="12" font-family='"Liberation Sans","Noto Sans CJK SC",sans-serif'>-12.25</text>
<text x="1278.3" y="518" fill="#e8e8e8" font-size="12" font-family='"Noto Sans CJK SC","WenQuanYi Zen Hei",sans-serif' textLength="46.5" lengthAdjust="spacingAndGlyphs">甲醇2209</text>
<text x="1326.6" y="514.7" fill="#ff2a2a" font-size="9.5" font-family='"Liberation Sans","Noto Sans CJK SC",sans-serif' font-weight="bold" textLength="6.2" lengthAdjust="spacingAndGlyphs">M</text>
<text x="1336" y="518" fill="#e8e8e8" font-size="12" font-family='"Liberation Mono","Noto Sans CJK SC",monospace' textLength="70.5" lengthAdjust="spacingAndGlyphs">(CZCE MA209)</text>
<text x="1419.4" y="518" fill="#e8e8e8" font-size="12" font-family='"Noto Sans CJK SC","WenQuanYi Zen Hei",sans-serif'>30分钟</text>
<polyline points="1458.1,511.5 1463.1,516.5 1468.1,511.5" fill="none" stroke="#e8e8e8" stroke-width="1.5" shape-rendering="geometricPrecision"/>
<text x="1486.6" y="518.5" fill="#00e000" font-size="12.5" font-family='"Liberation Sans","Noto Sans CJK SC",sans-serif'>2415</text>
<text x="1532.6" y="518.5" fill="#00e000" font-size="12.5" font-family='"Liberation Sans","Noto Sans CJK SC",sans-serif' textLength="71.2" lengthAdjust="spacingAndGlyphs">-25 / -1.02%</text>
<text x="1308.6" y="535.8" fill="#ffff00" font-size="12" font-family='"Noto Sans CJK SC","WenQuanYi Zen Hei",sans-serif'>精准主图</text>
<polyline points="1358.5,530.5 1363.5,535.5 1368.5,530.5" fill="none" stroke="#ffff00" stroke-width="1.6" shape-rendering="geometricPrecision"/>
<text x="1377.4" y="535.8" fill="#00e0e0" font-size="12.5" font-family='"Liberation Sans","Noto Sans CJK SC",sans-serif'>VAR2 0.00</text>
<text x="1443.7" y="535.8" fill="#00e0e0" font-size="12.5" font-family='"Liberation Sans","Noto Sans CJK SC",sans-serif'>BB 0.00</text>
<text x="1494.6" y="535.8" fill="#0000d8" font-size="12.5" font-family='"Liberation Sans","Noto Sans CJK SC",sans-serif'>DD</text>
<text x="1515" y="535.8" fill="#1a1aff" font-size="12.5" font-family='"Liberation Sans","Noto Sans CJK SC",sans-serif'>28.00</text>
<text x="1555.5" y="535.8" fill="#e80000" font-size="12.5" font-family='"Liberation Sans","Noto Sans CJK SC",sans-serif'>AA</text>
<text x="1575.5" y="535.8" fill="#ff1010" font-size="12.5" font-family='"Liberation Sans","Noto Sans CJK SC",sans-serif'>28.00</text>
<text x="1614.2" y="535.8" fill="#ffff00" font-size="12" font-family='"Noto Sans CJK SC","WenQuanYi Zen Hei",sans-serif'>顶底线</text>
<text x="1654.6" y="535.8" fill="#ffff00" font-size="12.5" font-family='"Liberation Sans","Noto Sans CJK SC",sans-serif'>15.48</text>
<text x="1694" y="535.8" fill="#ffff00" font-size="12" font-family='"Noto Sans CJK SC","WenQuanYi Zen Hei",sans-serif'>精准趋势</text>
<text x="1750.3" y="535.8" fill="#ffff00" font-size="12.5" font-family='"Liberation Sans","Noto Sans CJK SC",sans-serif'>HH 2432.50</text>
<text x="1834.5" y="535.3" fill="#ffff00" font-size="12" font-family='"Liberation Mono","Noto Sans CJK SC",monospace' textLength="30" lengthAdjust="spacingAndGlyphs">Delay</text>
<line x1="1253" y1="523.5" x2="1875" y2="523.5" stroke="#c81810" stroke-width="1"/>
<line x1="1304" y1="765.5" x2="1875" y2="765.5" stroke="#c81810" stroke-width="1"/>
<line x1="1304" y1="826.5" x2="1875" y2="826.5" stroke="#c81810" stroke-width="1"/>
<line x1="1304" y1="948.5" x2="1875" y2="948.5" stroke="#c81810" stroke-width="1"/>
<line x1="1304.5" y1="523" x2="1304.5" y2="948" stroke="#c81810" stroke-width="1"/>
<line x1="1875.5" y1="506" x2="1875.5" y2="966" stroke="#c81810" stroke-width="1"/>
<line x1="1878.5" y1="506" x2="1878.5" y2="966" stroke="#c81810" stroke-width="1"/>
<line x1="1875" y1="506.5" x2="1879" y2="506.5" stroke="#c81810" stroke-width="1"/>
<line x1="1875" y1="965.5" x2="1879" y2="965.5" stroke="#c81810" stroke-width="1"/>
<text x="1305" y="761" fill="#e6e600" font-size="12" font-family='"Noto Sans CJK SC","WenQuanYi Zen Hei",sans-serif'>4天</text>
<text x="1870" y="761" fill="#e6e600" font-size="12" font-family='"Noto Sans CJK SC","WenQuanYi Zen Hei",sans-serif' text-anchor="end">18分0秒</text>
<text x="1354" y="963" fill="#a0a0a0" font-size="12.5" font-family='"Liberation Sans","Noto Sans CJK SC",sans-serif' text-anchor="middle">2022/07/19</text>
<text x="1559" y="963" fill="#a0a0a0" font-size="12.5" font-family='"Liberation Sans","Noto Sans CJK SC",sans-serif' text-anchor="middle">2022/07/20</text>
<text x="1763" y="963" fill="#a0a0a0" font-size="12.5" font-family='"Liberation Sans","Noto Sans CJK SC",sans-serif' text-anchor="middle">2022/07/21</text>
<rect x="1763" y="756" width="1" height="9" fill="#a8a8a8"/>
<rect x="1763" y="817" width="1" height="9" fill="#a8a8a8"/>
<rect x="1763" y="939" width="1" height="9" fill="#a8a8a8"/>
<polyline points="153.3,76.1 170.0,78.5 203.5,83.7 230.0,93.0 274.0,111.4 310.0,118.5 337.3,126.3 357.8,136.0 376.0,143.3 408.0,160.4 426.2,175.2 439.8,191.2 458.0,207.1 476.3,217.4 492.2,223.0 510.0,231.7" fill="none" stroke="#e0e000" stroke-width="1" shape-rendering="crispEdges"/>
<polyline points="116.0,130.5 205.0,130.5 220.5,137.5 258.0,137.5 271.8,143.5 306.0,143.5 323.7,156.5 357.8,156.5 373.8,169.5 409.0,169.5 416.0,194.6 425.0,221.5 476.3,221.5" fill="none" stroke="#00b400" stroke-width="1" stroke-dasharray="3,3" shape-rendering="crispEdges"/>
<rect x="44.5" y="111.5" width="14" height="13" fill="none" stroke="#ff0000" stroke-width="1"/>
<rect x="51" y="98" width="1" height="13" fill="#ff0000"/>
<rect x="61.5" y="98.5" width="14" height="19" fill="none" stroke="#ff0000" stroke-width="1"/>
<rect x="68" y="91" width="1" height="7" fill="#ff0000"/>
<rect x="78" y="104" width="15" height="8" fill="#ff0000"/>
<rect x="85" y="91" width="1" height="13" fill="#ff0000"/>
<rect x="85" y="112" width="1" height="6" fill="#ff0000"/>
<rect x="95" y="111" width="15" height="14" fill="#ff0000"/>
<rect x="102" y="104" width="1" height="7" fill="#ff0000"/>
<rect x="102" y="125" width="1" height="6" fill="#ff0000"/>
<rect x="112" y="130" width="15" height="14" fill="#00ffff"/>
<rect x="119" y="144" width="1" height="7" fill="#00ffff"/>
<rect x="129" y="143" width="15" height="1" fill="#00ffff"/>
<rect x="136" y="130" width="1" height="13" fill="#00ffff"/>
<rect x="146" y="137" width="15" height="1" fill="#00ffff"/>
<rect x="153" y="130" width="1" height="7" fill="#00ffff"/>
<rect x="153" y="138" width="1" height="6" fill="#00ffff"/>
<rect x="163.5" y="137.5" width="14" height="6" fill="none" stroke="#00ffff" stroke-width="1"/>
<rect x="170" y="130" width="1" height="7" fill="#00ffff"/>
<rect x="180.5" y="137.5" width="14" height="6" fill="none" stroke="#00ffff" stroke-width="1"/>
<rect x="187" y="130" width="1" height="7" fill="#00ffff"/>
<rect x="197" y="137" width="15" height="1" fill="#00ffff"/>
<rect x="204" y="130" width="1" height="7" fill="#00ffff"/>
<rect x="204" y="138" width="1" height="6" fill="#00ffff"/>
<rect x="214" y="143" width="15" height="8" fill="#00ffff"/>
<rect x="221" y="137" width="1" height="6" fill="#00ffff"/>
<rect x="221" y="151" width="1" height="6" fill="#00ffff"/>
<rect x="231.5" y="143.5" width="14" height="7" fill="none" stroke="#00ffff" stroke-width="1"/>
<rect x="238" y="137" width="1" height="6" fill="#00ffff"/>
<rect x="248" y="137" width="15" height="14" fill="#00ffff"/>
<rect x="265" y="150" width="15" height="7" fill="#00ffff"/>
<rect x="272" y="143" width="1" height="7" fill="#00ffff"/>
<rect x="282" y="150" width="15" height="7" fill="#00ffff"/>
<rect x="289" y="157" width="1" height="7" fill="#00ffff"/>
<rect x="299" y="156" width="15" height="8" fill="#00ffff"/>
<rect x="306" y="150" width="1" height="6" fill="#00ffff"/>
<rect x="316" y="163" width="15" height="7" fill="#00ffff"/>
<rect x="323" y="156" width="1" height="7" fill="#00ffff"/>
<rect x="323" y="170" width="1" height="6" fill="#00ffff"/>
<rect x="333" y="169" width="15" height="20" fill="#00ffff"/>
<rect x="340" y="163" width="1" height="6" fill="#00ffff"/>
<rect x="340" y="189" width="1" height="7" fill="#00ffff"/>
<rect x="350" y="182" width="15" height="7" fill="#00ffff"/>
<rect x="357" y="189" width="1" height="7" fill="#00ffff"/>
<rect x="367" y="188" width="15" height="1" fill="#00ffff"/>
<rect x="374" y="169" width="1" height="19" fill="#00ffff"/>
<rect x="374" y="189" width="1" height="7" fill="#00ffff"/>
<rect x="384" y="188" width="15" height="14" fill="#00ffff"/>
<rect x="401" y="195" width="15" height="33" fill="#00ffff"/>
<rect x="408" y="228" width="1" height="7" fill="#00ffff"/>
<rect x="418" y="227" width="15" height="53" fill="#00ffff"/>
<rect x="425" y="221" width="1" height="6" fill="#00ffff"/>
<rect x="425" y="280" width="1" height="6" fill="#00ffff"/>
<rect x="435.5" y="273.5" width="14" height="6" fill="none" stroke="#00ffff" stroke-width="1"/>
<rect x="442" y="260" width="1" height="13" fill="#00ffff"/>
<rect x="452.5" y="240.5" width="14" height="33" fill="none" stroke="#00ffff" stroke-width="1"/>
<rect x="459" y="227" width="1" height="13" fill="#00ffff"/>
<rect x="459" y="274" width="1" height="6" fill="#00ffff"/>
<rect x="469.5" y="221.5" width="14" height="13" fill="none" stroke="#00ffff" stroke-width="1"/>
<rect x="476" y="214" width="1" height="7" fill="#00ffff"/>
<rect x="476" y="235" width="1" height="13" fill="#00ffff"/>
<rect x="486.5" y="208.5" width="14" height="13" fill="none" stroke="#ff0000" stroke-width="1"/>
<rect x="493" y="195" width="1" height="13" fill="#ff0000"/>
<rect x="493" y="222" width="1" height="13" fill="#ff0000"/>
<rect x="503" y="208" width="15" height="7" fill="#ff0000"/>
<rect x="510" y="215" width="1" height="7" fill="#ff0000"/>
<rect x="520.5" y="188.5" width="14" height="26" fill="none" stroke="#ff0000" stroke-width="1"/>
<rect x="527" y="163" width="1" height="25" fill="#ff0000"/>
<rect x="537" y="188" width="15" height="14" fill="#ff0000"/>
<rect x="544" y="182" width="1" height="6" fill="#ff0000"/>
<rect x="544" y="202" width="1" height="7" fill="#ff0000"/>
<polyline points="51.0,127.0 68.0,121.0 85.0,115.5 101.0,111.5" fill="none" stroke="#f0f0f0" stroke-width="1.2" shape-rendering="geometricPrecision"/>
<line x1="51" y1="130.5" x2="103" y2="130.5" stroke="#e0e000" stroke-width="1" stroke-dasharray="3,3"/>
<rect x="136" y="109" width="17" height="1" fill="#f0f0f0"/>
<text x="112" y="129" fill="#10b010" font-size="12" font-family='"Noto Sans CJK SC","WenQuanYi Zen Hei",sans-serif'>卖</text>
<text x="486" y="246" fill="#e0e000" font-size="12" font-family='"Noto Sans CJK SC","WenQuanYi Zen Hei",sans-serif'>买</text>
<line x1="493" y1="247.5" x2="546" y2="247.5" stroke="#e0e000" stroke-width="1" stroke-dasharray="3,3"/>
<rect x="544" y="230" width="2" height="1" fill="#e0e000"/>
<rect x="526" y="286" width="2" height="1" fill="#f0f0f0"/>
<rect x="119" y="77" width="2" height="1" fill="#e0e000"/>
<text x="68.5" y="89" fill="#ff3838" font-size="13" font-family='"Liberation Sans","Noto Sans CJK SC",sans-serif' text-anchor="middle">2438</text>
<text x="119" y="163" fill="#20e8e8" font-size="13" font-family='"Liberation Sans","Noto Sans CJK SC",sans-serif' text-anchor="middle">2429</text>
<text x="527" y="160" fill="#ff3838" font-size="13" font-family='"Liberation Sans","Noto Sans CJK SC",sans-serif' text-anchor="middle">2427</text>
<text x="425" y="299" fill="#20e8e8" font-size="13" font-family='"Liberation Sans","Noto Sans CJK SC",sans-serif' text-anchor="middle">2408</text>
<polygon points="459.5,282 455.5,286.5 463.5,286.5" fill="#ff2020" shape-rendering="geometricPrecision"/>
<rect x="458.5" y="286" width="2" height="5" fill="#ff2020"/>
<circle cx="476.7" cy="205.5" r="3.5" fill="none" stroke="#ff2020" stroke-width="1.1" shape-rendering="geometricPrecision"/>
<rect x="51" y="323" width="1" height="10" fill="#ff4040"/>
<rect x="68" y="322" width="1" height="11" fill="#ff4040"/>
<rect x="85" y="322" width="1" height="11" fill="#ff4040"/>
<rect x="102" y="325" width="1" height="8" fill="#ff4040"/>
<rect x="119" y="330" width="1" height="3" fill="#ff4040"/>
<rect x="136" y="332" width="1" height="2" fill="#00f0f0"/>
<rect x="153" y="332" width="1" height="3" fill="#00f0f0"/>
<rect x="170" y="332" width="1" height="4" fill="#00f0f0"/>
<rect x="187" y="332" width="1" height="4" fill="#00f0f0"/>
<rect x="204" y="332" width="1" height="4" fill="#00f0f0"/>
<rect x="221" y="332" width="1" height="6" fill="#00f0f0"/>
<rect x="238" y="332" width="1" height="6" fill="#00f0f0"/>
<rect x="255" y="332" width="1" height="7" fill="#00f0f0"/>
<rect x="272" y="332" width="1" height="8" fill="#00f0f0"/>
<rect x="289" y="332" width="1" height="8" fill="#00f0f0"/>
<rect x="306" y="332" width="1" height="9" fill="#00f0f0"/>
<rect x="323" y="332" width="1" height="9" fill="#00f0f0"/>
<rect x="340" y="332" width="1" height="12" fill="#00f0f0"/>
<rect x="357" y="332" width="1" height="14" fill="#00f0f0"/>
<rect x="374" y="332" width="1" height="14" fill="#00f0f0"/>
<rect x="391" y="332" width="1" height="15" fill="#00f0f0"/>
<rect x="408" y="332" width="1" height="19" fill="#00f0f0"/>
<rect x="425" y="332" width="1" height="27" fill="#00f0f0"/>
<rect x="442" y="332" width="1" height="30" fill="#00f0f0"/>
<rect x="459" y="332" width="1" height="25" fill="#00f0f0"/>
<rect x="476" y="332" width="1" height="18" fill="#00f0f0"/>
<rect x="493" y="332" width="1" height="9" fill="#00f0f0"/>
<rect x="510" y="332" width="1" height="4" fill="#00f0f0"/>
<rect x="527" y="329" width="1" height="4" fill="#ff4040"/>
<rect x="544" y="325" width="1" height="8" fill="#ff4040"/>
<polyline points="51.5,332.4 68.5,330.9 85.5,329.0 102.5,327.9 119.5,327.9 136.5,328.2 153.5,328.6 170.5,329.0 187.5,329.2 204.5,329.9 221.5,330.5 238.5,330.9 255.5,331.8 272.5,332.7 289.5,333.9 306.5,334.6 323.5,335.5 340.5,338.0 357.5,339.9 374.5,341.4 391.5,343.6 408.5,345.5 425.5,348.3 442.5,351.5 459.5,354.9 476.5,356.7 493.5,358.1 510.5,359.0 527.5,357.9 544.5,356.7" fill="none" stroke="#e0e000" stroke-width="1" shape-rendering="crispEdges"/>
<polyline points="51.5,327.1 68.5,324.9 85.5,323.7 102.5,323.7 119.5,325.8 136.5,328.6 153.5,329.5 170.5,329.9 187.5,330.5 204.5,331.4 221.5,332.7 238.5,333.9 255.5,334.8 272.5,335.7 289.5,337.0 306.5,338.9 323.5,340.6 340.5,344.0 357.5,346.1 374.5,347.7 391.5,350.2 408.5,353.9 425.5,361.4 442.5,366.5 459.5,367.6 476.5,366.1 493.5,363.3 510.5,360.9 527.5,356.4 544.5,353.9" fill="none" stroke="#f0f0f0" stroke-width="1" shape-rendering="crispEdges"/>
<circle cx="527.7" cy="346.9" r="3.2" fill="#ff1010" shape-rendering="geometricPrecision"/>
<circle cx="526.8000000000001" cy="346.0" r="0.9" fill="#ffb0b0" shape-rendering="geometricPrecision"/>
<rect x="51" y="408" width="1" height="15" fill="#ff4040"/>
<rect x="68" y="404" width="1" height="19" fill="#ff4040"/>
<rect x="85" y="406" width="1" height="17" fill="#ff4040"/>
<rect x="102" y="412" width="1" height="11" fill="#ff4040"/>
<rect x="119" y="420" width="1" height="3" fill="#ff4040"/>
<rect x="136" y="422" width="1" height="3" fill="#00f0f0"/>
<rect x="153" y="422" width="1" height="5" fill="#00f0f0"/>
<rect x="170" y="422" width="1" height="7" fill="#00f0f0"/>
<rect x="187" y="422" width="1" height="7" fill="#00f0f0"/>
<rect x="204" y="422" width="1" height="7" fill="#00f0f0"/>
<rect x="221" y="422" width="1" height="11" fill="#00f0f0"/>
<rect x="238" y="422" width="1" height="10" fill="#00f0f0"/>
<rect x="255" y="422" width="1" height="11" fill="#00f0f0"/>
<rect x="272" y="422" width="1" height="13" fill="#00f0f0"/>
<rect x="289" y="422" width="1" height="14" fill="#00f0f0"/>
<rect x="306" y="422" width="1" height="15" fill="#00f0f0"/>
<rect x="323" y="422" width="1" height="15" fill="#00f0f0"/>
<rect x="340" y="422" width="1" height="21" fill="#00f0f0"/>
<rect x="357" y="422" width="1" height="23" fill="#00f0f0"/>
<rect x="374" y="422" width="1" height="23" fill="#00f0f0"/>
<rect x="391" y="422" width="1" height="24" fill="#00f0f0"/>
<rect x="408" y="422" width="1" height="30" fill="#00f0f0"/>
<rect x="425" y="422" width="1" height="45" fill="#00f0f0"/>
<rect x="442" y="422" width="1" height="49" fill="#00f0f0"/>
<rect x="459" y="422" width="1" height="41" fill="#00f0f0"/>
<rect x="476" y="422" width="1" height="29" fill="#00f0f0"/>
<rect x="493" y="422" width="1" height="16" fill="#00f0f0"/>
<rect x="510" y="422" width="1" height="8" fill="#00f0f0"/>
<rect x="527" y="417" width="1" height="6" fill="#ff4040"/>
<rect x="544" y="412" width="1" height="11" fill="#ff4040"/>
<polyline points="51.5,422.7 68.5,420.5 85.5,418.2 102.5,415.4 119.5,415.4 136.5,416.1 153.5,417.1 170.5,417.6 187.5,418.2 204.5,419.1 221.5,420.1 238.5,421.0 255.5,422.3 272.5,423.6 289.5,424.9 306.5,426.4 323.5,428.5 340.5,431.7 357.5,434.0 374.5,436.8 391.5,439.6 408.5,443.0 425.5,449.0 442.5,454.6 459.5,460.2 476.5,463.6 493.5,465.1 510.5,465.9 527.5,464.5 544.5,462.7" fill="none" stroke="#e0e000" stroke-width="1" shape-rendering="crispEdges"/>
<polyline points="51.5,414.3 68.5,411.1 85.5,408.6 102.5,409.6 119.5,412.9 136.5,416.3 153.5,418.0 170.5,418.9 187.5,419.9 204.5,421.7 221.5,423.6 238.5,425.7 255.5,427.6 272.5,429.4 289.5,431.7 306.5,434.5 323.5,436.0 340.5,440.7 357.5,444.5 374.5,446.7 391.5,450.5 408.5,458.0 425.5,470.2 442.5,478.6 459.5,480.1 476.5,476.7 493.5,472.0 510.5,468.3 527.5,461.7 544.5,458.0" fill="none" stroke="#f0f0f0" stroke-width="1" shape-rendering="crispEdges"/>
<circle cx="136.8" cy="407.8" r="3.2" fill="#ff1010" shape-rendering="geometricPrecision"/>
<circle cx="135.9" cy="406.90000000000003" r="0.9" fill="#ffb0b0" shape-rendering="geometricPrecision"/>
<polyline points="681.5,76.1 715.0,92.0 749.2,108.7 775.0,126.0 798.2,143.4 820.0,163.0 842.7,186.0 867.8,208.3 890.5,222.7 913.3,238.7 922.5,244.4 940.0,247.8 968.3,251.2" fill="none" stroke="#e0e000" stroke-width="1" shape-rendering="crispEdges"/>
<polyline points="681.5,92.1 698.4,131.5 732.8,131.5 747.0,155.5 784.6,155.5 800.5,218.5 869.6,218.5 885.5,238.5 936.1,238.5" fill="none" stroke="#00b400" stroke-width="1" stroke-dasharray="3,3" shape-rendering="crispEdges"/>
<polyline points="953.5,277.9 970.1,246.5 1004.8,246.5 1021.4,214.5 1055.4,214.5 1072.7,163.5 1106.9,163.5 1124.0,143.5 1171.2,143.5" fill="none" stroke="#e0e000" stroke-width="1" stroke-dasharray="3,3" shape-rendering="crispEdges"/>
<polyline points="987.0,286.5 1020.7,268.8 1041.3,259.2 1056.0,249.4 1084.6,222.7 1116.5,197.0 1141.5,177.6 1159.8,167.3 1173.5,161.2" fill="none" stroke="#e8e8e8" stroke-width="1" shape-rendering="geometricPrecision"/>
<rect x="674" y="131" width="15" height="5" fill="#00ffff"/>
<rect x="681" y="127" width="1" height="4" fill="#00ffff"/>
<rect x="681" y="136" width="1" height="12" fill="#00ffff"/>
<rect x="691" y="135" width="15" height="25" fill="#00ffff"/>
<rect x="698" y="131" width="1" height="4" fill="#00ffff"/>
<rect x="698" y="160" width="1" height="12" fill="#00ffff"/>
<rect x="708.5" y="151.5" width="14" height="8" fill="none" stroke="#00ffff" stroke-width="1"/>
<rect x="715" y="147" width="1" height="4" fill="#00ffff"/>
<rect x="715" y="160" width="1" height="12" fill="#00ffff"/>
<rect x="725" y="151" width="15" height="9" fill="#00ffff"/>
<rect x="732" y="147" width="1" height="4" fill="#00ffff"/>
<rect x="742.5" y="155.5" width="14" height="4" fill="none" stroke="#00ffff" stroke-width="1"/>
<rect x="749" y="160" width="1" height="12" fill="#00ffff"/>
<rect x="759.5" y="203.5" width="14" height="36" fill="none" stroke="#00ffff" stroke-width="1"/>
<rect x="766" y="240" width="1" height="27" fill="#00ffff"/>
<rect x="776" y="199" width="15" height="56" fill="#00ffff"/>
<rect x="783" y="255" width="1" height="4" fill="#00ffff"/>
<rect x="793.5" y="242.5" width="14" height="12" fill="none" stroke="#00ffff" stroke-width="1"/>
<rect x="800" y="219" width="1" height="23" fill="#00ffff"/>
<rect x="800" y="255" width="1" height="4" fill="#00ffff"/>
<rect x="810" y="239" width="15" height="24" fill="#00ffff"/>
<rect x="817" y="223" width="1" height="16" fill="#00ffff"/>
<rect x="817" y="263" width="1" height="24" fill="#00ffff"/>
<rect x="827" y="262" width="15" height="17" fill="#00ffff"/>
<rect x="834" y="246" width="1" height="16" fill="#00ffff"/>
<rect x="834" y="279" width="1" height="8" fill="#00ffff"/>
<rect x="844.5" y="278.5" width="14" height="4" fill="none" stroke="#00ffff" stroke-width="1"/>
<rect x="851" y="262" width="1" height="16" fill="#00ffff"/>
<rect x="851" y="283" width="1" height="4" fill="#00ffff"/>
<rect x="861.5" y="254.5" width="14" height="28" fill="none" stroke="#00ffff" stroke-width="1"/>
<rect x="868" y="250" width="1" height="4" fill="#00ffff"/>
<rect x="878" y="258" width="15" height="9" fill="#00ffff"/>
<rect x="885" y="239" width="1" height="19" fill="#00ffff"/>
<rect x="885" y="267" width="1" height="8" fill="#00ffff"/>
<rect x="895" y="266" width="15" height="13" fill="#00ffff"/>
<rect x="902" y="262" width="1" height="4" fill="#00ffff"/>
<rect x="902" y="279" width="1" height="4" fill="#00ffff"/>
<rect x="912.5" y="258.5" width="14" height="20" fill="none" stroke="#00ffff" stroke-width="1"/>
<rect x="919" y="246" width="1" height="12" fill="#00ffff"/>
<rect x="929.5" y="246.5" width="14" height="12" fill="none" stroke="#00ffff" stroke-width="1"/>
<rect x="936" y="239" width="1" height="7" fill="#00ffff"/>
<rect x="936" y="259" width="1" height="12" fill="#00ffff"/>
<rect x="946.5" y="231.5" width="14" height="11" fill="none" stroke="#ff0000" stroke-width="1"/>
<rect x="953" y="219" width="1" height="12" fill="#ff0000"/>
<rect x="953" y="243" width="1" height="8" fill="#ff0000"/>
<rect x="963" y="235" width="15" height="5" fill="#ff0000"/>
<rect x="970" y="231" width="1" height="4" fill="#ff0000"/>
<rect x="970" y="240" width="1" height="7" fill="#ff0000"/>
<rect x="980.5" y="211.5" width="14" height="28" fill="none" stroke="#ff0000" stroke-width="1"/>
<rect x="987" y="207" width="1" height="4" fill="#ff0000"/>
<rect x="987" y="240" width="1" height="3" fill="#ff0000"/>
<rect x="997.5" y="195.5" width="14" height="16" fill="none" stroke="#ff0000" stroke-width="1"/>
<rect x="1004" y="179" width="1" height="16" fill="#ff0000"/>
<rect x="1014" y="199" width="15" height="5" fill="#ff0000"/>
<rect x="1021" y="191" width="1" height="8" fill="#ff0000"/>
<rect x="1021" y="204" width="1" height="12" fill="#ff0000"/>
<rect x="1031.5" y="183.5" width="14" height="20" fill="none" stroke="#ff0000" stroke-width="1"/>
<rect x="1038" y="179" width="1" height="4" fill="#ff0000"/>
<rect x="1038" y="204" width="1" height="12" fill="#ff0000"/>
<rect x="1048.5" y="163.5" width="14" height="16" fill="none" stroke="#ff0000" stroke-width="1"/>
<rect x="1055" y="155" width="1" height="8" fill="#ff0000"/>
<rect x="1055" y="180" width="1" height="8" fill="#ff0000"/>
<rect x="1065.5" y="135.5" width="14" height="24" fill="none" stroke="#ff0000" stroke-width="1"/>
<rect x="1072" y="123" width="1" height="12" fill="#ff0000"/>
<rect x="1072" y="160" width="1" height="4" fill="#ff0000"/>
<rect x="1082" y="131" width="15" height="21" fill="#ff0000"/>
<rect x="1089" y="127" width="1" height="4" fill="#ff0000"/>
<rect x="1099.5" y="115.5" width="14" height="36" fill="none" stroke="#ff0000" stroke-width="1"/>
<rect x="1106" y="103" width="1" height="12" fill="#ff0000"/>
<rect x="1106" y="152" width="1" height="4" fill="#ff0000"/>
<rect x="1116" y="115" width="15" height="25" fill="#ff0000"/>
<rect x="1123" y="99" width="1" height="16" fill="#ff0000"/>
<rect x="1123" y="140" width="1" height="4" fill="#ff0000"/>
<rect x="1133.5" y="131.5" width="14" height="8" fill="none" stroke="#ff0000" stroke-width="1"/>
<rect x="1140" y="119" width="1" height="12" fill="#ff0000"/>
<rect x="1140" y="140" width="1" height="4" fill="#ff0000"/>
<rect x="1150" y="131" width="15" height="13" fill="#ff0000"/>
<rect x="1157" y="107" width="1" height="24" fill="#ff0000"/>
<rect x="1167" y="139" width="15" height="1" fill="#ff0000"/>
<text x="946.5" y="261" fill="#e0e000" font-size="12" font-family='"Noto Sans CJK SC","WenQuanYi Zen Hei",sans-serif'>买</text>
<text x="817" y="299" fill="#20e8e8" font-size="13" font-family='"Liberation Sans","Noto Sans CJK SC",sans-serif' text-anchor="middle">2378</text>
<text x="1123" y="96" fill="#ff3838" font-size="13" font-family='"Liberation Sans","Noto Sans CJK SC",sans-serif' text-anchor="middle">2425</text>
<polygon points="868.5,286 864.5,290.5 872.5,290.5" fill="#ff2020" shape-rendering="geometricPrecision"/>
<rect x="867.5" y="290" width="2" height="5" fill="#ff2020"/>
<polygon points="919.5,282 915.5,286.5 923.5,286.5" fill="#ff2020" shape-rendering="geometricPrecision"/>
<rect x="918.5" y="286" width="2" height="5" fill="#ff2020"/>
<circle cx="987.9" cy="198.1" r="3.5" fill="none" stroke="#ff2020" stroke-width="1.1" shape-rendering="geometricPrecision"/>
<rect x="681" y="336" width="1" height="5" fill="#00f0f0"/>
<rect x="698" y="336" width="1" height="6" fill="#00f0f0"/>
<rect x="715" y="336" width="1" height="5" fill="#00f0f0"/>
<rect x="732" y="336" width="1" height="5" fill="#00f0f0"/>
<rect x="749" y="336" width="1" height="5" fill="#00f0f0"/>
<rect x="766" y="336" width="1" height="7" fill="#00f0f0"/>
<rect x="783" y="336" width="1" height="10" fill="#00f0f0"/>
<rect x="800" y="336" width="1" height="11" fill="#00f0f0"/>
<rect x="817" y="336" width="1" height="12" fill="#00f0f0"/>
<rect x="834" y="336" width="1" height="13" fill="#00f0f0"/>
<rect x="851" y="336" width="1" height="11" fill="#00f0f0"/>
<rect x="868" y="336" width="1" height="10" fill="#00f0f0"/>
<rect x="885" y="336" width="1" height="8" fill="#00f0f0"/>
<rect x="902" y="336" width="1" height="7" fill="#00f0f0"/>
<rect x="919" y="336" width="1" height="4" fill="#00f0f0"/>
<rect x="936" y="336" width="1" height="3" fill="#00f0f0"/>
<rect x="953" y="335" width="1" height="2" fill="#ff4040"/>
<rect x="970" y="333" width="1" height="4" fill="#ff4040"/>
<rect x="987" y="330" width="1" height="7" fill="#ff4040"/>
<rect x="1004" y="328" width="1" height="9" fill="#ff4040"/>
<rect x="1021" y="327" width="1" height="10" fill="#ff4040"/>
<rect x="1038" y="325" width="1" height="12" fill="#ff4040"/>
<rect x="1055" y="324" width="1" height="13" fill="#ff4040"/>
<rect x="1072" y="322" width="1" height="15" fill="#ff4040"/>
<rect x="1089" y="322" width="1" height="15" fill="#ff4040"/>
<rect x="1106" y="321" width="1" height="16" fill="#ff4040"/>
<rect x="1123" y="322" width="1" height="15" fill="#ff4040"/>
<rect x="1140" y="323" width="1" height="14" fill="#ff4040"/>
<rect x="1157" y="325" width="1" height="12" fill="#ff4040"/>
<rect x="1174" y="326" width="1" height="11" fill="#ff4040"/>
<polyline points="681.5,341.7 698.5,342.3 715.5,342.9 732.5,343.2 749.5,344.0 766.5,344.9 783.5,346.0 800.5,347.0 817.5,348.3 834.5,349.6 851.5,351.1 868.5,352.6 885.5,353.5 902.5,354.3 919.5,354.9 936.5,354.9 953.5,354.5 970.5,353.9 987.5,353.4 1004.5,352.0 1021.5,350.7 1038.5,349.6 1055.5,347.9 1072.5,346.0 1089.5,344.0 1106.5,341.7 1123.5,340.2 1140.5,338.5 1157.5,337.1 1174.5,335.5" fill="none" stroke="#e0e000" stroke-width="1" shape-rendering="crispEdges"/>
<polyline points="681.5,343.6 698.5,344.9 715.5,345.1 732.5,345.5 749.5,345.5 766.5,347.4 783.5,349.6 800.5,351.5 817.5,353.9 834.5,355.4 851.5,356.7 868.5,356.7 885.5,357.1 902.5,357.7 919.5,356.7 936.5,355.7 953.5,353.9 970.5,352.6 987.5,350.2 1004.5,348.3 1021.5,346.4 1038.5,344.0 1055.5,342.1 1072.5,339.9 1089.5,337.1 1106.5,334.2 1123.5,332.7 1140.5,332.0 1157.5,331.8 1174.5,330.5" fill="none" stroke="#f0f0f0" stroke-width="1" shape-rendering="crispEdges"/>
<circle cx="953.7" cy="345" r="3.2" fill="#ff1010" shape-rendering="geometricPrecision"/>
<circle cx="952.8000000000001" cy="344.1" r="0.9" fill="#ffb0b0" shape-rendering="geometricPrecision"/>
<rect x="681" y="422" width="1" height="11" fill="#00f0f0"/>
<rect x="698" y="422" width="1" height="15" fill="#00f0f0"/>
<rect x="715" y="422" width="1" height="14" fill="#00f0f0"/>
<rect x="732" y="422" width="1" height="14" fill="#00f0f0"/>
<rect x="749" y="422" width="1" height="13" fill="#00f0f0"/>
<rect x="766" y="422" width="1" height="18" fill="#00f0f0"/>
<rect x="783" y="422" width="1" height="26" fill="#00f0f0"/>
<rect x="800" y="422" width="1" height="29" fill="#00f0f0"/>
<rect x="817" y="422" width="1" height="32" fill="#00f0f0"/>
<rect x="834" y="422" width="1" height="34" fill="#00f0f0"/>
<rect x="851" y="422" width="1" height="32" fill="#00f0f0"/>
<rect x="868" y="422" width="1" height="26" fill="#00f0f0"/>
<rect x="885" y="422" width="1" height="21" fill="#00f0f0"/>
<rect x="902" y="422" width="1" height="18" fill="#00f0f0"/>
<rect x="919" y="422" width="1" height="12" fill="#00f0f0"/>
<rect x="936" y="422" width="1" height="4" fill="#00f0f0"/>
<rect x="953" y="419" width="1" height="4" fill="#ff4040"/>
<rect x="970" y="414" width="1" height="9" fill="#ff4040"/>
<rect x="987" y="407" width="1" height="16" fill="#ff4040"/>
<rect x="1004" y="400" width="1" height="23" fill="#ff4040"/>
<rect x="1021" y="397" width="1" height="26" fill="#ff4040"/>
<rect x="1038" y="393" width="1" height="30" fill="#ff4040"/>
<rect x="1055" y="389" width="1" height="34" fill="#ff4040"/>
<rect x="1072" y="383" width="1" height="40" fill="#ff4040"/>
<rect x="1089" y="384" width="1" height="39" fill="#ff4040"/>
<rect x="1106" y="381" width="1" height="42" fill="#ff4040"/>
<rect x="1123" y="384" width="1" height="39" fill="#ff4040"/>
<rect x="1140" y="387" width="1" height="36" fill="#ff4040"/>
<rect x="1157" y="392" width="1" height="31" fill="#ff4040"/>
<rect x="1174" y="396" width="1" height="27" fill="#ff4040"/>
<polyline points="681.5,437.0 698.5,438.8 715.5,440.1 732.5,441.5 749.5,443.0 766.5,444.8 783.5,447.6 800.5,450.5 817.5,453.8 834.5,457.0 851.5,460.8 868.5,464.0 885.5,467.3 902.5,469.6 919.5,471.4 936.5,472.6 953.5,471.4 970.5,470.1 987.5,467.9 1004.5,464.5 1021.5,461.7 1038.5,458.5 1055.5,454.6 1072.5,450.1 1089.5,444.8 1106.5,438.8 1123.5,434.1 1140.5,430.8 1157.5,427.0 1174.5,423.3" fill="none" stroke="#e0e000" stroke-width="1" shape-rendering="crispEdges"/>
<polyline points="681.5,442.0 698.5,444.5 715.5,446.7 732.5,447.6 749.5,448.6 766.5,452.3 783.5,460.8 800.5,465.1 817.5,470.1 834.5,474.8 851.5,477.6 868.5,478.6 885.5,478.6 902.5,479.5 919.5,477.6 936.5,473.9 953.5,470.1 970.5,466.4 987.5,461.3 1004.5,454.2 1021.5,450.1 1038.5,444.5 1055.5,438.3 1072.5,429.8 1089.5,424.2 1106.5,417.7 1123.5,414.8 1140.5,411.1 1157.5,409.8 1174.5,408.8" fill="none" stroke="#f0f0f0" stroke-width="1" shape-rendering="crispEdges"/>
<polyline points="1312.4,76.1 1331.4,77.3 1379.2,89.8 1431.6,94.4 1463.6,97.8 1481.8,104.2 1500.0,106.5 1532.0,118.3 1550.2,128.6 1570.0,145.7 1589.2,163.9 1623.4,198.1 1646.2,216.3 1673.5,237.3 1687.2,243.7 1700.9,244.8 1719.6,250.5" fill="none" stroke="#e0e000" stroke-width="1" shape-rendering="crispEdges"/>
<polyline points="1312.4,92.5 1431.6,92.5 1447.6,114.5 1481.8,114.5 1499.6,127.5 1534.2,127.5 1550.2,172.5 1584.6,172.5 1589.2,186.7 1596.0,216.3 1601.7,237.5 1685.0,237.5" fill="none" stroke="#00b400" stroke-width="1" stroke-dasharray="3,3" shape-rendering="crispEdges"/>
<polyline points="1700.9,243.5 1737.4,243.5 1743.0,220.9 1748.8,198.1 1754.5,182.5 1805.7,182.5" fill="none" stroke="#e0e000" stroke-width="1" stroke-dasharray="3,3" shape-rendering="crispEdges"/>
<polyline points="1737.4,286.5 1755.6,275.6 1773.8,259.6 1792.1,246.0 1804.6,237.3" fill="none" stroke="#e8e8e8" stroke-width="1" shape-rendering="geometricPrecision"/>
<rect x="1305" y="111" width="15" height="17" fill="#00ffff"/>
<rect x="1312" y="92" width="1" height="19" fill="#00ffff"/>
<rect x="1322.5" y="114.5" width="14" height="10" fill="none" stroke="#00ffff" stroke-width="1"/>
<rect x="1329" y="111" width="1" height="3" fill="#00ffff"/>
<rect x="1329" y="125" width="1" height="26" fill="#00ffff"/>
<rect x="1339.5" y="114.5" width="14" height="4" fill="none" stroke="#00ffff" stroke-width="1"/>
<rect x="1346" y="102" width="1" height="12" fill="#00ffff"/>
<rect x="1346" y="119" width="1" height="9" fill="#00ffff"/>
<rect x="1356" y="118" width="15" height="4" fill="#00ffff"/>
<rect x="1363" y="111" width="1" height="7" fill="#00ffff"/>
<rect x="1363" y="122" width="1" height="6" fill="#00ffff"/>
<rect x="1373.5" y="114.5" width="14" height="7" fill="none" stroke="#00ffff" stroke-width="1"/>
<rect x="1380" y="105" width="1" height="9" fill="#00ffff"/>
<rect x="1380" y="122" width="1" height="3" fill="#00ffff"/>
<rect x="1390.5" y="95.5" width="14" height="19" fill="none" stroke="#00ffff" stroke-width="1"/>
<rect x="1397" y="92" width="1" height="3" fill="#00ffff"/>
<rect x="1397" y="115" width="1" height="4" fill="#00ffff"/>
<rect x="1407" y="98" width="15" height="17" fill="#00ffff"/>
<rect x="1414" y="92" width="1" height="6" fill="#00ffff"/>
<rect x="1414" y="115" width="1" height="7" fill="#00ffff"/>
<rect x="1424" y="118" width="15" height="1" fill="#00ffff"/>
<rect x="1431" y="111" width="1" height="7" fill="#00ffff"/>
<rect x="1431" y="119" width="1" height="6" fill="#00ffff"/>
<rect x="1441" y="114" width="15" height="17" fill="#00ffff"/>
<rect x="1448" y="131" width="1" height="4" fill="#00ffff"/>
<rect x="1458" y="130" width="15" height="30" fill="#00ffff"/>
<rect x="1465" y="127" width="1" height="3" fill="#00ffff"/>
<rect x="1465" y="160" width="1" height="4" fill="#00ffff"/>
<rect x="1475.5" y="150.5" width="14" height="9" fill="none" stroke="#00ffff" stroke-width="1"/>
<rect x="1482" y="143" width="1" height="7" fill="#00ffff"/>
<rect x="1482" y="160" width="1" height="29" fill="#00ffff"/>
<rect x="1492" y="150" width="15" height="10" fill="#00ffff"/>
<rect x="1499" y="127" width="1" height="23" fill="#00ffff"/>
<rect x="1499" y="160" width="1" height="7" fill="#00ffff"/>
<rect x="1509" y="159" width="15" height="27" fill="#00ffff"/>
<rect x="1516" y="156" width="1" height="3" fill="#00ffff"/>
<rect x="1516" y="186" width="1" height="7" fill="#00ffff"/>
<rect x="1526.5" y="176.5" width="14" height="9" fill="none" stroke="#00ffff" stroke-width="1"/>
<rect x="1533" y="172" width="1" height="4" fill="#00ffff"/>
<rect x="1533" y="186" width="1" height="7" fill="#00ffff"/>
<rect x="1543" y="176" width="15" height="4" fill="#00ffff"/>
<rect x="1550" y="172" width="1" height="4" fill="#00ffff"/>
<rect x="1550" y="180" width="1" height="13" fill="#00ffff"/>
<rect x="1560.5" y="237.5" width="14" height="9" fill="none" stroke="#00ffff" stroke-width="1"/>
<rect x="1567" y="214" width="1" height="23" fill="#00ffff"/>
<rect x="1567" y="247" width="1" height="26" fill="#00ffff"/>
<rect x="1577.5" y="237.5" width="14" height="3" fill="none" stroke="#00ffff" stroke-width="1"/>
<rect x="1584" y="230" width="1" height="7" fill="#00ffff"/>
<rect x="1584" y="241" width="1" height="26" fill="#00ffff"/>
<rect x="1594" y="237" width="15" height="46" fill="#00ffff"/>
<rect x="1601" y="283" width="1" height="3" fill="#00ffff"/>
<rect x="1611.5" y="275.5" width="14" height="7" fill="none" stroke="#00ffff" stroke-width="1"/>
<rect x="1618" y="263" width="1" height="12" fill="#00ffff"/>
<rect x="1618" y="283" width="1" height="3" fill="#00ffff"/>
<rect x="1628" y="269" width="15" height="11" fill="#00ffff"/>
<rect x="1635" y="246" width="1" height="23" fill="#00ffff"/>
<rect x="1635" y="280" width="1" height="3" fill="#00ffff"/>
<rect x="1645.5" y="263.5" width="14" height="16" fill="none" stroke="#00ffff" stroke-width="1"/>
<rect x="1652" y="253" width="1" height="10" fill="#00ffff"/>
<rect x="1652" y="280" width="1" height="3" fill="#00ffff"/>
<rect x="1662.5" y="237.5" width="14" height="29" fill="none" stroke="#00ffff" stroke-width="1"/>
<rect x="1669" y="267" width="1" height="9" fill="#00ffff"/>
<rect x="1679" y="240" width="15" height="1" fill="#00ffff"/>
<rect x="1686" y="230" width="1" height="10" fill="#00ffff"/>
<rect x="1686" y="241" width="1" height="13" fill="#00ffff"/>
<rect x="1696.5" y="211.5" width="14" height="29" fill="none" stroke="#ff0000" stroke-width="1"/>
<rect x="1703" y="198" width="1" height="13" fill="#ff0000"/>
<rect x="1713" y="214" width="15" height="1" fill="#ff0000"/>
<rect x="1720" y="208" width="1" height="6" fill="#ff0000"/>
<rect x="1720" y="215" width="1" height="13" fill="#ff0000"/>
<rect x="1730.5" y="179.5" width="14" height="38" fill="none" stroke="#ff0000" stroke-width="1"/>
<rect x="1737" y="172" width="1" height="7" fill="#ff0000"/>
<rect x="1747.5" y="176.5" width="14" height="6" fill="none" stroke="#ff0000" stroke-width="1"/>
<rect x="1754" y="153" width="1" height="23" fill="#ff0000"/>
<rect x="1764.5" y="163.5" width="14" height="13" fill="none" stroke="#ff0000" stroke-width="1"/>
<rect x="1771" y="134" width="1" height="29" fill="#ff0000"/>
<rect x="1771" y="177" width="1" height="3" fill="#ff0000"/>
<rect x="1781.5" y="156.5" width="14" height="3" fill="none" stroke="#ff0000" stroke-width="1"/>
<rect x="1788" y="147" width="1" height="9" fill="#ff0000"/>
<rect x="1788" y="160" width="1" height="10" fill="#ff0000"/>
<rect x="1798" y="159" width="15" height="8" fill="#ff0000"/>
<rect x="1805" y="140" width="1" height="19" fill="#ff0000"/>
<rect x="1805" y="167" width="1" height="3" fill="#ff0000"/>
<text x="1697" y="250" fill="#e0e000" font-size="12" font-family='"Noto Sans CJK SC","WenQuanYi Zen Hei",sans-serif'>买</text>
<text x="1329" y="163" fill="#20e8e8" font-size="13" font-family='"Liberation Sans","Noto Sans CJK SC",sans-serif' text-anchor="middle">2420</text>
<text x="1601" y="299.5" fill="#20e8e8" font-size="13" font-family='"Liberation Sans","Noto Sans CJK SC",sans-serif' text-anchor="middle">2378</text>
<text x="1771" y="131" fill="#ff3838" font-size="13" font-family='"Liberation Sans","Noto Sans CJK SC",sans-serif' text-anchor="middle">2425</text>
<polygon points="1669.5,277 1665.5,281.5 1673.5,281.5" fill="#ff2020" shape-rendering="geometricPrecision"/>
<rect x="1668.5" y="281" width="2" height="5" fill="#ff2020"/>
<circle cx="1329.8" cy="102.8" r="3.5" fill="none" stroke="#ff2020" stroke-width="1.1" shape-rendering="geometricPrecision"/>
<circle cx="1482.9" cy="135" r="3.5" fill="none" stroke="#ff2020" stroke-width="1.1" shape-rendering="geometricPrecision"/>
<circle cx="1703.6" cy="189.7" r="3.5" fill="none" stroke="#ff2020" stroke-width="1.1" shape-rendering="geometricPrecision"/>
<rect x="1312" y="334" width="1" height="2" fill="#00f0f0"/>
<rect x="1397" y="332" width="1" height="3" fill="#ff4040"/>
<rect x="1414" y="332" width="1" height="3" fill="#ff4040"/>
<rect x="1431" y="332" width="1" height="3" fill="#ff4040"/>
<rect x="1465" y="334" width="1" height="4" fill="#00f0f0"/>
<rect x="1482" y="334" width="1" height="4" fill="#00f0f0"/>
<rect x="1499" y="334" width="1" height="5" fill="#00f0f0"/>
<rect x="1516" y="334" width="1" height="6" fill="#00f0f0"/>
<rect x="1533" y="334" width="1" height="7" fill="#00f0f0"/>
<rect x="1550" y="334" width="1" height="7" fill="#00f0f0"/>
<rect x="1567" y="334" width="1" height="11" fill="#00f0f0"/>
<rect x="1584" y="334" width="1" height="11" fill="#00f0f0"/>
<rect x="1601" y="334" width="1" height="15" fill="#00f0f0"/>
<rect x="1618" y="334" width="1" height="14" fill="#00f0f0"/>
<rect x="1635" y="334" width="1" height="15" fill="#00f0f0"/>
<rect x="1652" y="334" width="1" height="13" fill="#00f0f0"/>
<rect x="1669" y="334" width="1" height="9" fill="#00f0f0"/>
<rect x="1686" y="334" width="1" height="6" fill="#00f0f0"/>
<rect x="1720" y="332" width="1" height="3" fill="#ff4040"/>
<rect x="1737" y="328" width="1" height="7" fill="#ff4040"/>
<rect x="1754" y="325" width="1" height="10" fill="#ff4040"/>
<rect x="1771" y="322" width="1" height="13" fill="#ff4040"/>
<rect x="1788" y="321" width="1" height="14" fill="#ff4040"/>
<rect x="1805" y="321" width="1" height="14" fill="#ff4040"/>
<polyline points="1312.5,338.0 1329.5,338.0 1346.5,338.0 1363.5,338.0 1380.5,338.0 1397.5,338.0 1414.5,338.0 1431.5,338.0 1448.5,338.0 1465.5,338.5 1482.5,338.9 1499.5,339.3 1516.5,339.9 1533.5,340.8 1550.5,341.7 1567.5,343.0 1584.5,344.9 1601.5,346.0 1618.5,347.7 1635.5,349.6 1652.5,351.1 1669.5,351.7 1686.5,352.6 1703.5,352.6 1720.5,352.6 1737.5,351.5 1754.5,350.2 1771.5,348.9 1788.5,347.4 1805.5,345.9" fill="none" stroke="#e0e000" stroke-width="1" shape-rendering="crispEdges"/>
<polyline points="1312.5,338.0 1329.5,338.0 1346.5,338.0 1363.5,338.9 1380.5,338.0 1397.5,337.1 1414.5,337.1 1431.5,337.1 1448.5,338.0 1465.5,339.5 1482.5,340.4 1499.5,341.7 1516.5,343.6 1533.5,344.2 1550.5,344.9 1567.5,347.0 1584.5,348.3 1601.5,351.1 1618.5,353.9 1635.5,356.7 1652.5,357.7 1669.5,356.4 1686.5,355.4 1703.5,353.5 1720.5,351.1 1737.5,348.3 1754.5,345.9 1771.5,343.2 1788.5,340.4 1805.5,338.9" fill="none" stroke="#f0f0f0" stroke-width="1" shape-rendering="crispEdges"/>
<circle cx="1398.1" cy="327.7" r="3.2" fill="#ff1010" shape-rendering="geometricPrecision"/>
<circle cx="1397.1999999999998" cy="326.8" r="0.9" fill="#ffb0b0" shape-rendering="geometricPrecision"/>
<circle cx="1720.9" cy="343.1" r="3.2" fill="#ff1010" shape-rendering="geometricPrecision"/>
<circle cx="1720.0" cy="342.20000000000005" r="0.9" fill="#ffb0b0" shape-rendering="geometricPrecision"/>
<rect x="1312" y="417" width="1" height="2" fill="#00f0f0"/>
<rect x="1329" y="417" width="1" height="3" fill="#00f0f0"/>
<rect x="1346" y="417" width="1" height="3" fill="#00f0f0"/>
<rect x="1363" y="417" width="1" height="3" fill="#00f0f0"/>
<rect x="1380" y="417" width="1" height="2" fill="#00f0f0"/>
<rect x="1397" y="416" width="1" height="2" fill="#ff4040"/>
<rect x="1414" y="416" width="1" height="2" fill="#ff4040"/>
<rect x="1431" y="416" width="1" height="2" fill="#ff4040"/>
<rect x="1465" y="417" width="1" height="10" fill="#00f0f0"/>
<rect x="1482" y="417" width="1" height="11" fill="#00f0f0"/>
<rect x="1499" y="417" width="1" height="14" fill="#00f0f0"/>
<rect x="1516" y="417" width="1" height="19" fill="#00f0f0"/>
<rect x="1533" y="417" width="1" height="19" fill="#00f0f0"/>
<rect x="1550" y="417" width="1" height="19" fill="#00f0f0"/>
<rect x="1567" y="417" width="1" height="28" fill="#00f0f0"/>
<rect x="1584" y="417" width="1" height="32" fill="#00f0f0"/>
<rect x="1601" y="417" width="1" height="40" fill="#00f0f0"/>
<rect x="1618" y="417" width="1" height="40" fill="#00f0f0"/>
<rect x="1635" y="417" width="1" height="40" fill="#00f0f0"/>
<rect x="1652" y="417" width="1" height="34" fill="#00f0f0"/>
<rect x="1669" y="417" width="1" height="23" fill="#00f0f0"/>
<rect x="1686" y="417" width="1" height="13" fill="#00f0f0"/>
<rect x="1703" y="417" width="1" height="2" fill="#00f0f0"/>
<rect x="1720" y="411" width="1" height="7" fill="#ff4040"/>
<rect x="1737" y="399" width="1" height="19" fill="#ff4040"/>
<rect x="1754" y="392" width="1" height="26" fill="#ff4040"/>
<rect x="1771" y="385" width="1" height="33" fill="#ff4040"/>
<rect x="1788" y="381" width="1" height="37" fill="#ff4040"/>
<rect x="1805" y="381" width="1" height="37" fill="#ff4040"/>
<polyline points="1312.5,427.0 1329.5,427.0 1346.5,427.0 1363.5,428.0 1380.5,428.0 1397.5,426.6 1414.5,426.5 1431.5,426.5 1448.5,427.4 1465.5,428.0 1482.5,429.5 1499.5,430.4 1516.5,433.2 1533.5,435.5 1550.5,438.3 1567.5,440.7 1584.5,444.5 1601.5,449.1 1618.5,453.8 1635.5,458.5 1652.5,462.6 1669.5,465.5 1686.5,467.9 1703.5,467.9 1720.5,466.4 1737.5,463.6 1754.5,458.9 1771.5,453.8 1788.5,450.5 1805.5,447.6" fill="none" stroke="#e0e000" stroke-width="1" shape-rendering="crispEdges"/>
<polyline points="1312.5,428.9 1329.5,428.9 1346.5,428.9 1363.5,428.9 1380.5,428.9 1397.5,426.1 1414.5,425.7 1431.5,426.1 1448.5,428.0 1465.5,431.3 1482.5,434.5 1499.5,437.0 1516.5,441.1 1533.5,443.9 1550.5,446.3 1567.5,453.5 1584.5,459.8 1601.5,469.2 1618.5,473.9 1635.5,477.6 1652.5,479.5 1669.5,475.8 1686.5,472.9 1703.5,466.9 1720.5,462.6 1737.5,454.2 1754.5,446.7 1771.5,440.1 1788.5,432.6 1805.5,428.9" fill="none" stroke="#f0f0f0" stroke-width="1" shape-rendering="crispEdges"/>
<circle cx="1312.8" cy="420" r="3.2" fill="#ff1010" shape-rendering="geometricPrecision"/>
<circle cx="1311.8999999999999" cy="419.1" r="0.9" fill="#ffb0b0" shape-rendering="geometricPrecision"/>
<circle cx="1448.9" cy="418.7" r="3.2" fill="#ff1010" shape-rendering="geometricPrecision"/>
<circle cx="1448.0" cy="417.8" r="0.9" fill="#ffb0b0" shape-rendering="geometricPrecision"/>
<polyline points="50.9,540.1 71.5,551.6 82.9,556.2 103.5,560.7 135.6,576.8 163.0,587.1 185.9,602.0 204.3,611.1 220.3,612.3" fill="none" stroke="#e0e000" stroke-width="1" shape-rendering="crispEdges"/>
<polyline points="255.3,610.4 271.8,617.3 289.0,617.3 306.4,621.0" fill="none" stroke="#e0e000" stroke-width="1" shape-rendering="crispEdges"/>
<polyline points="356.8,622.6 375.1,629.4 404.9,651.2 423.2,671.8 443.8,691.2 459.8,709.6 478.2,724.4 491.9,735.9 510.2,744.6 523.9,747.3 543.4,750.1" fill="none" stroke="#e0e000" stroke-width="1" shape-rendering="crispEdges"/>
<polyline points="50.9,556.5 84.0,556.5 102.4,580.5 137.9,580.5 153.4,614.5 204.3,614.5" fill="none" stroke="#00b400" stroke-width="1" stroke-dasharray="3,3" shape-rendering="crispEdges"/>
<polyline points="356.8,614.5 374.0,614.5 379.7,628.3 386.6,646.6 391.2,659.5 544.5,659.5" fill="none" stroke="#00b400" stroke-width="1" stroke-dasharray="3,3" shape-rendering="crispEdges"/>
<polyline points="221.4,641.5 273.0,641.5 289.0,655.5 338.5,655.5" fill="none" stroke="#e0e000" stroke-width="1" stroke-dasharray="3,3" shape-rendering="crispEdges"/>
<rect x="44" y="589" width="15" height="44" fill="#00ffff"/>
<rect x="51" y="633" width="1" height="7" fill="#00ffff"/>
<rect x="61" y="630" width="15" height="1" fill="#00ffff"/>
<rect x="68" y="621" width="1" height="9" fill="#00ffff"/>
<rect x="68" y="631" width="1" height="20" fill="#00ffff"/>
<rect x="78.5" y="614.5" width="14" height="18" fill="none" stroke="#00ffff" stroke-width="1"/>
<rect x="85" y="601" width="1" height="13" fill="#00ffff"/>
<rect x="95" y="614" width="15" height="6" fill="#00ffff"/>
<rect x="102" y="580" width="1" height="34" fill="#00ffff"/>
<rect x="102" y="620" width="1" height="2" fill="#00ffff"/>
<rect x="112.5" y="612.5" width="14" height="9" fill="none" stroke="#00ffff" stroke-width="1"/>
<rect x="119" y="622" width="1" height="14" fill="#00ffff"/>
<rect x="129" y="612" width="15" height="21" fill="#00ffff"/>
<rect x="136" y="601" width="1" height="11" fill="#00ffff"/>
<rect x="136" y="633" width="1" height="9" fill="#00ffff"/>
<rect x="146.5" y="628.5" width="14" height="4" fill="none" stroke="#00ffff" stroke-width="1"/>
<rect x="153" y="614" width="1" height="14" fill="#00ffff"/>
<rect x="153" y="633" width="1" height="9" fill="#00ffff"/>
<rect x="163" y="628" width="15" height="8" fill="#00ffff"/>
<rect x="170" y="621" width="1" height="7" fill="#00ffff"/>
<rect x="170" y="636" width="1" height="4" fill="#00ffff"/>
<rect x="180.5" y="619.5" width="14" height="18" fill="none" stroke="#00ffff" stroke-width="1"/>
<rect x="187" y="617" width="1" height="2" fill="#00ffff"/>
<rect x="187" y="638" width="1" height="4" fill="#00ffff"/>
<rect x="197" y="619" width="15" height="10" fill="#00ffff"/>
<rect x="204" y="607" width="1" height="12" fill="#00ffff"/>
<rect x="204" y="629" width="1" height="4" fill="#00ffff"/>
<rect x="214.5" y="607.5" width="14" height="21" fill="none" stroke="#ff0000" stroke-width="1"/>
<rect x="221" y="594" width="1" height="13" fill="#ff0000"/>
<rect x="231" y="612" width="15" height="6" fill="#ff0000"/>
<rect x="238" y="603" width="1" height="9" fill="#ff0000"/>
<rect x="238" y="618" width="1" height="4" fill="#ff0000"/>
<rect x="248" y="614" width="15" height="24" fill="#ff0000"/>
<rect x="255" y="605" width="1" height="9" fill="#ff0000"/>
<rect x="255" y="638" width="1" height="11" fill="#ff0000"/>
<rect x="265.5" y="628.5" width="14" height="9" fill="none" stroke="#ff0000" stroke-width="1"/>
<rect x="272" y="621" width="1" height="7" fill="#ff0000"/>
<rect x="272" y="638" width="1" height="2" fill="#ff0000"/>
<rect x="282" y="628" width="15" height="3" fill="#ff0000"/>
<rect x="289" y="614" width="1" height="14" fill="#ff0000"/>
<rect x="289" y="631" width="1" height="25" fill="#ff0000"/>
<rect x="299" y="632" width="15" height="4" fill="#ff0000"/>
<rect x="306" y="621" width="1" height="11" fill="#ff0000"/>
<rect x="306" y="636" width="1" height="4" fill="#ff0000"/>
<rect x="316.5" y="617.5" width="14" height="18" fill="none" stroke="#ff0000" stroke-width="1"/>
<rect x="323" y="614" width="1" height="3" fill="#ff0000"/>
<rect x="323" y="636" width="1" height="2" fill="#ff0000"/>
<rect x="333" y="619" width="15" height="14" fill="#ff0000"/>
<rect x="340" y="614" width="1" height="5" fill="#ff0000"/>
<rect x="340" y="633" width="1" height="5" fill="#ff0000"/>
<rect x="350" y="630" width="15" height="33" fill="#00ffff"/>
<rect x="357" y="663" width="1" height="2" fill="#00ffff"/>
<rect x="367" y="662" width="15" height="1" fill="#00ffff"/>
<rect x="374" y="639" width="1" height="23" fill="#00ffff"/>
<rect x="374" y="663" width="1" height="20" fill="#00ffff"/>
<rect x="384" y="662" width="15" height="12" fill="#00ffff"/>
<rect x="391" y="674" width="1" height="11" fill="#00ffff"/>
<rect x="401" y="673" width="15" height="3" fill="#00ffff"/>
<rect x="408" y="671" width="1" height="2" fill="#00ffff"/>
<rect x="408" y="676" width="1" height="9" fill="#00ffff"/>
<rect x="418.5" y="716.5" width="14" height="7" fill="none" stroke="#00ffff" stroke-width="1"/>
<rect x="425" y="700" width="1" height="16" fill="#00ffff"/>
<rect x="425" y="724" width="1" height="16" fill="#00ffff"/>
<rect x="435" y="716" width="15" height="26" fill="#00ffff"/>
<rect x="442" y="742" width="1" height="9" fill="#00ffff"/>
<rect x="452.5" y="734.5" width="14" height="5" fill="none" stroke="#00ffff" stroke-width="1"/>
<rect x="459" y="723" width="1" height="11" fill="#00ffff"/>
<rect x="459" y="740" width="1" height="9" fill="#00ffff"/>
<rect x="469.5" y="718.5" width="14" height="16" fill="none" stroke="#00ffff" stroke-width="1"/>
<rect x="476" y="712" width="1" height="6" fill="#00ffff"/>
<rect x="476" y="735" width="1" height="7" fill="#00ffff"/>
<rect x="486.5" y="700.5" width="14" height="18" fill="none" stroke="#00ffff" stroke-width="1"/>
<rect x="493" y="689" width="1" height="11" fill="#00ffff"/>
<rect x="493" y="719" width="1" height="3" fill="#00ffff"/>
<rect x="503.5" y="673.5" width="14" height="29" fill="none" stroke="#00ffff" stroke-width="1"/>
<rect x="510" y="657" width="1" height="16" fill="#00ffff"/>
<rect x="520.5" y="659.5" width="14" height="14" fill="none" stroke="#00ffff" stroke-width="1"/>
<rect x="527" y="644" width="1" height="15" fill="#00ffff"/>
<rect x="527" y="674" width="1" height="2" fill="#00ffff"/>
<rect x="537" y="662" width="15" height="5" fill="#00ffff"/>
<rect x="544" y="648" width="1" height="14" fill="#00ffff"/>
<rect x="544" y="667" width="1" height="3" fill="#00ffff"/>
<text x="45" y="588" fill="#10b010" font-size="12" font-family='"Noto Sans CJK SC","WenQuanYi Zen Hei",sans-serif'>卖</text>
<text x="351" y="629" fill="#10b010" font-size="12" font-family='"Noto Sans CJK SC","WenQuanYi Zen Hei",sans-serif'>卖</text>
<text x="214.6" y="634" fill="#e0e000" font-size="12" font-family='"Noto Sans CJK SC","WenQuanYi Zen Hei",sans-serif'>买</text>
<polyline points="322.9,670.6 331.0,670.0 339.6,669.5" fill="none" stroke="#f0f0f0" stroke-width="1" shape-rendering="crispEdges"/>
<rect x="238" y="661" width="2" height="1" fill="#f0f0f0"/>
<text x="68" y="662.6" fill="#20e8e8" font-size="13" font-family='"Liberation Sans","Noto Sans CJK SC",sans-serif' text-anchor="middle">2422</text>
<text x="102" y="576.8" fill="#ff3838" font-size="13" font-family='"Liberation Sans","Noto Sans CJK SC",sans-serif' text-anchor="middle">2453</text>
<text x="221" y="590.5" fill="#ff3838" font-size="13" font-family='"Liberation Sans","Noto Sans CJK SC",sans-serif' text-anchor="middle">2447</text>
<text x="442" y="763" fill="#20e8e8" font-size="13" font-family='"Liberation Sans","Noto Sans CJK SC",sans-serif' text-anchor="middle">2378</text>
<text x="527" y="639.7" fill="#ff3838" font-size="13" font-family='"Liberation Sans","Noto Sans CJK SC",sans-serif' text-anchor="middle">2425</text>
<polygon points="476.5,744 472.5,748.5 480.5,748.5" fill="#ff2020" shape-rendering="geometricPrecision"/>
<rect x="475.5" y="748" width="2" height="5" fill="#ff2020"/>
<circle cx="510.9" cy="648.9" r="3.5" fill="none" stroke="#ff2020" stroke-width="1.1" shape-rendering="geometricPrecision"/>
<rect x="51" y="803" width="1" height="11" fill="#00f0f0"/>
<rect x="68" y="803" width="1" height="14" fill="#00f0f0"/>
<rect x="85" y="803" width="1" height="14" fill="#00f0f0"/>
<rect x="102" y="803" width="1" height="14" fill="#00f0f0"/>
<rect x="119" y="803" width="1" height="13" fill="#00f0f0"/>
<rect x="136" y="803" width="1" height="14" fill="#00f0f0"/>
<rect x="153" y="803" width="1" height="13" fill="#00f0f0"/>
<rect x="170" y="803" width="1" height="13" fill="#00f0f0"/>
<rect x="187" y="803" width="1" height="11" fill="#00f0f0"/>
<rect x="204" y="803" width="1" height="10" fill="#00f0f0"/>
<rect x="221" y="803" width="1" height="8" fill="#00f0f0"/>
<rect x="238" y="803" width="1" height="6" fill="#00f0f0"/>
<rect x="255" y="803" width="1" height="7" fill="#00f0f0"/>
<rect x="272" y="803" width="1" height="7" fill="#00f0f0"/>
<rect x="289" y="803" width="1" height="6" fill="#00f0f0"/>
<rect x="306" y="803" width="1" height="6" fill="#00f0f0"/>
<rect x="323" y="803" width="1" height="3" fill="#00f0f0"/>
<rect x="340" y="803" width="1" height="3" fill="#00f0f0"/>
<rect x="357" y="803" width="1" height="6" fill="#00f0f0"/>
<rect x="374" y="803" width="1" height="7" fill="#00f0f0"/>
<rect x="391" y="803" width="1" height="8" fill="#00f0f0"/>
<rect x="408" y="803" width="1" height="9" fill="#00f0f0"/>
<rect x="425" y="803" width="1" height="12" fill="#00f0f0"/>
<rect x="442" y="803" width="1" height="16" fill="#00f0f0"/>
<rect x="459" y="803" width="1" height="17" fill="#00f0f0"/>
<rect x="476" y="803" width="1" height="16" fill="#00f0f0"/>
<rect x="493" y="803" width="1" height="12" fill="#00f0f0"/>
<rect x="510" y="803" width="1" height="6" fill="#00f0f0"/>
<rect x="544" y="802" width="1" height="2" fill="#ff4040"/>
<polyline points="51.5,784.6 68.5,785.7 85.5,787.4 102.5,788.9 119.5,790.4 136.5,791.7 153.5,793.2 170.5,794.9 187.5,796.4 204.5,797.7 221.5,798.9 238.5,799.6 255.5,800.6 272.5,801.1 289.5,801.7 306.5,802.4 323.5,803.0 340.5,803.9 357.5,804.3 374.5,804.9 391.5,805.8 408.5,807.1 425.5,809.0 442.5,811.4 459.5,813.3 476.5,814.8 493.5,816.1 510.5,816.7 527.5,816.7 544.5,816.7" fill="none" stroke="#e0e000" stroke-width="1" shape-rendering="crispEdges"/>
<polyline points="51.5,789.9 68.5,791.7 85.5,793.6 102.5,795.1 119.5,796.8 136.5,798.7 153.5,800.2 170.5,801.5 187.5,802.1 204.5,802.6 221.5,802.1 238.5,803.0 255.5,803.5 272.5,803.9 289.5,804.9 306.5,804.9 323.5,804.9 340.5,804.9 357.5,806.7 374.5,809.0 391.5,810.5 408.5,811.4 425.5,814.2 442.5,818.9 459.5,821.4 476.5,822.7 493.5,821.7 510.5,819.5 527.5,817.6 544.5,815.2" fill="none" stroke="#f0f0f0" stroke-width="1" shape-rendering="crispEdges"/>
<circle cx="544.9" cy="805.7" r="3.2" fill="#ff1010" shape-rendering="geometricPrecision"/>
<circle cx="544.0" cy="804.8000000000001" r="0.9" fill="#ffb0b0" shape-rendering="geometricPrecision"/>
<rect x="51" y="895" width="1" height="27" fill="#00f0f0"/>
<rect x="68" y="895" width="1" height="35" fill="#00f0f0"/>
<rect x="85" y="895" width="1" height="35" fill="#00f0f0"/>
<rect x="102" y="895" width="1" height="35" fill="#00f0f0"/>
<rect x="119" y="895" width="1" height="33" fill="#00f0f0"/>
<rect x="136" y="895" width="1" height="35" fill="#00f0f0"/>
<rect x="153" y="895" width="1" height="34" fill="#00f0f0"/>
<rect x="170" y="895" width="1" height="33" fill="#00f0f0"/>
<rect x="187" y="895" width="1" height="28" fill="#00f0f0"/>
<rect x="204" y="895" width="1" height="26" fill="#00f0f0"/>
<rect x="221" y="895" width="1" height="19" fill="#00f0f0"/>
<rect x="238" y="895" width="1" height="16" fill="#00f0f0"/>
<rect x="255" y="895" width="1" height="18" fill="#00f0f0"/>
<rect x="272" y="895" width="1" height="16" fill="#00f0f0"/>
<rect x="289" y="895" width="1" height="15" fill="#00f0f0"/>
<rect x="306" y="895" width="1" height="15" fill="#00f0f0"/>
<rect x="323" y="895" width="1" height="10" fill="#00f0f0"/>
<rect x="340" y="895" width="1" height="10" fill="#00f0f0"/>
<rect x="357" y="895" width="1" height="16" fill="#00f0f0"/>
<rect x="374" y="895" width="1" height="20" fill="#00f0f0"/>
<rect x="391" y="895" width="1" height="22" fill="#00f0f0"/>
<rect x="408" y="895" width="1" height="24" fill="#00f0f0"/>
<rect x="425" y="895" width="1" height="31" fill="#00f0f0"/>
<rect x="442" y="895" width="1" height="42" fill="#00f0f0"/>
<rect x="459" y="895" width="1" height="44" fill="#00f0f0"/>
<rect x="476" y="895" width="1" height="40" fill="#00f0f0"/>
<rect x="493" y="895" width="1" height="29" fill="#00f0f0"/>
<rect x="510" y="895" width="1" height="15" fill="#00f0f0"/>
<rect x="544" y="888" width="1" height="8" fill="#ff4040"/>
<polyline points="51.5,845.7 68.5,849.3 85.5,853.2 102.5,857.3 119.5,861.5 136.5,865.8 153.5,869.9 170.5,873.8 187.5,877.4 204.5,880.4 221.5,883.2 238.5,885.5 255.5,887.7 272.5,889.6 289.5,891.6 306.5,893.0 323.5,893.9 340.5,894.8 357.5,896.7 374.5,899.0 391.5,901.8 408.5,904.6 425.5,908.9 442.5,915.1 459.5,920.1 476.5,924.5 493.5,928.6 510.5,930.1 527.5,930.1 544.5,928.6" fill="none" stroke="#e0e000" stroke-width="1" shape-rendering="crispEdges"/>
<polyline points="51.5,858.7 68.5,866.7 85.5,870.1 102.5,873.8 119.5,877.6 136.5,881.7 153.5,886.4 170.5,890.1 187.5,892.0 204.5,893.9 221.5,892.0 238.5,893.9 255.5,896.3 272.5,896.7 289.5,898.2 306.5,899.5 323.5,897.6 340.5,899.0 357.5,903.8 374.5,908.9 391.5,912.6 408.5,917.0 425.5,924.8 442.5,935.1 459.5,941.7 476.5,944.5 493.5,942.6 510.5,937.0 527.5,930.5 544.5,925.8" fill="none" stroke="#f0f0f0" stroke-width="1" shape-rendering="crispEdges"/>
<polyline points="868.6,540.1 885.8,541.3 902.9,550.4 919.0,560.7 940.0,573.3 952.5,580.2 986.8,592.8 1005.1,607.2 1023.4,615.7 1053.2,624.9 1066.9,631.7 1087.5,645.5 1108.2,664.9 1124.2,685.5 1140.2,706.1 1156.2,717.6 1173.4,721.5" fill="none" stroke="#e0e000" stroke-width="1" shape-rendering="crispEdges"/>
<polyline points="868.6,568.3 884.6,589.5 884.6,591.5 952.5,591.5 970.3,604.5 998.3,604.5 1021.2,623.5 1055.5,623.5 1071.5,646.5 1167.7,646.5" fill="none" stroke="#00b400" stroke-width="1" stroke-dasharray="3,3" shape-rendering="crispEdges"/>
<polyline points="680.9,707.5 698.0,707.5 703.8,685.5 715.2,648.9 715.2,648.5 750.2,648.5 766.7,619.5 851.4,619.5" fill="none" stroke="#e0e000" stroke-width="1" stroke-dasharray="3,3" shape-rendering="crispEdges"/>
<polyline points="680.9,749.2 696.9,743.9 715.2,741.6 733.5,733.6 765.6,714.1 777.0,701.5 804.5,674.1 820.5,654.6 834.3,640.9 851.4,632.4 867.5,634.0" fill="none" stroke="#e8e8e8" stroke-width="1" shape-rendering="geometricPrecision"/>
<rect x="674.5" y="631.5" width="14" height="24" fill="none" stroke="#ff0000" stroke-width="1"/>
<rect x="681" y="629" width="1" height="2" fill="#ff0000"/>
<rect x="691.5" y="629.5" width="14" height="2" fill="none" stroke="#ff0000" stroke-width="1"/>
<rect x="698" y="616" width="1" height="13" fill="#ff0000"/>
<rect x="698" y="632" width="1" height="13" fill="#ff0000"/>
<rect x="708.5" y="597.5" width="14" height="17" fill="none" stroke="#ff0000" stroke-width="1"/>
<rect x="715" y="582" width="1" height="15" fill="#ff0000"/>
<rect x="715" y="615" width="1" height="34" fill="#ff0000"/>
<rect x="725.5" y="572.5" width="14" height="27" fill="none" stroke="#ff0000" stroke-width="1"/>
<rect x="732" y="565" width="1" height="7" fill="#ff0000"/>
<rect x="732" y="600" width="1" height="13" fill="#ff0000"/>
<rect x="742" y="572" width="15" height="37" fill="#ff0000"/>
<rect x="749" y="555" width="1" height="17" fill="#ff0000"/>
<rect x="749" y="609" width="1" height="2" fill="#ff0000"/>
<rect x="759.5" y="593.5" width="14" height="15" fill="none" stroke="#ff0000" stroke-width="1"/>
<rect x="766" y="582" width="1" height="11" fill="#ff0000"/>
<rect x="766" y="609" width="1" height="11" fill="#ff0000"/>
<rect x="776.5" y="587.5" width="14" height="8" fill="none" stroke="#ff0000" stroke-width="1"/>
<rect x="783" y="568" width="1" height="19" fill="#ff0000"/>
<rect x="783" y="596" width="1" height="13" fill="#ff0000"/>
<rect x="793" y="585" width="15" height="22" fill="#ff0000"/>
<rect x="800" y="568" width="1" height="17" fill="#ff0000"/>
<rect x="800" y="607" width="1" height="8" fill="#ff0000"/>
<rect x="810.5" y="597.5" width="14" height="9" fill="none" stroke="#ff0000" stroke-width="1"/>
<rect x="817" y="585" width="1" height="12" fill="#ff0000"/>
<rect x="817" y="607" width="1" height="13" fill="#ff0000"/>
<rect x="827.5" y="574.5" width="14" height="23" fill="none" stroke="#ff0000" stroke-width="1"/>
<rect x="834" y="568" width="1" height="6" fill="#ff0000"/>
<rect x="834" y="598" width="1" height="5" fill="#ff0000"/>
<rect x="844" y="578" width="15" height="27" fill="#ff0000"/>
<rect x="851" y="576" width="1" height="2" fill="#ff0000"/>
<rect x="851" y="605" width="1" height="12" fill="#ff0000"/>
<rect x="861" y="606" width="15" height="33" fill="#00ffff"/>
<rect x="868" y="639" width="1" height="19" fill="#00ffff"/>
<rect x="878.5" y="608.5" width="14" height="32" fill="none" stroke="#00ffff" stroke-width="1"/>
<rect x="885" y="591" width="1" height="17" fill="#00ffff"/>
<rect x="895" y="608" width="15" height="14" fill="#00ffff"/>
<rect x="902" y="604" width="1" height="4" fill="#00ffff"/>
<rect x="902" y="622" width="1" height="21" fill="#00ffff"/>
<rect x="912" y="621" width="15" height="20" fill="#00ffff"/>
<rect x="919" y="610" width="1" height="11" fill="#00ffff"/>
<rect x="919" y="641" width="1" height="8" fill="#00ffff"/>
<rect x="929" y="642" width="15" height="1" fill="#00ffff"/>
<rect x="936" y="623" width="1" height="19" fill="#00ffff"/>
<rect x="936" y="643" width="1" height="6" fill="#00ffff"/>
<rect x="946.5" y="629.5" width="14" height="15" fill="none" stroke="#00ffff" stroke-width="1"/>
<rect x="953" y="616" width="1" height="13" fill="#00ffff"/>
<rect x="953" y="645" width="1" height="4" fill="#00ffff"/>
<rect x="963.5" y="616.5" width="14" height="15" fill="none" stroke="#00ffff" stroke-width="1"/>
<rect x="970" y="604" width="1" height="12" fill="#00ffff"/>
<rect x="970" y="632" width="1" height="9" fill="#00ffff"/>
<rect x="980" y="621" width="15" height="7" fill="#00ffff"/>
<rect x="987" y="612" width="1" height="9" fill="#00ffff"/>
<rect x="987" y="628" width="1" height="2" fill="#00ffff"/>
<rect x="997" y="629" width="15" height="8" fill="#00ffff"/>
<rect x="1004" y="637" width="1" height="19" fill="#00ffff"/>
<rect x="1014" y="636" width="15" height="3" fill="#00ffff"/>
<rect x="1021" y="623" width="1" height="13" fill="#00ffff"/>
<rect x="1021" y="639" width="1" height="23" fill="#00ffff"/>
<rect x="1031.5" y="625.5" width="14" height="15" fill="none" stroke="#00ffff" stroke-width="1"/>
<rect x="1038" y="623" width="1" height="2" fill="#00ffff"/>
<rect x="1038" y="641" width="1" height="6" fill="#00ffff"/>
<rect x="1048" y="627" width="15" height="22" fill="#00ffff"/>
<rect x="1055" y="623" width="1" height="4" fill="#00ffff"/>
<rect x="1055" y="649" width="1" height="2" fill="#00ffff"/>
<rect x="1065" y="648" width="15" height="20" fill="#00ffff"/>
<rect x="1072" y="668" width="1" height="20" fill="#00ffff"/>
<rect x="1082" y="667" width="15" height="14" fill="#00ffff"/>
<rect x="1089" y="665" width="1" height="2" fill="#00ffff"/>
<rect x="1089" y="681" width="1" height="9" fill="#00ffff"/>
<rect x="1099" y="725" width="15" height="22" fill="#00ffff"/>
<rect x="1106" y="704" width="1" height="21" fill="#00ffff"/>
<rect x="1106" y="747" width="1" height="4" fill="#00ffff"/>
<rect x="1116.5" y="735.5" width="14" height="13" fill="none" stroke="#00ffff" stroke-width="1"/>
<rect x="1123" y="725" width="1" height="10" fill="#00ffff"/>
<rect x="1123" y="749" width="1" height="2" fill="#00ffff"/>
<rect x="1133.5" y="701.5" width="14" height="34" fill="none" stroke="#00ffff" stroke-width="1"/>
<rect x="1140" y="693" width="1" height="8" fill="#00ffff"/>
<rect x="1140" y="736" width="1" height="7" fill="#00ffff"/>
<rect x="1150.5" y="678.5" width="14" height="26" fill="none" stroke="#00ffff" stroke-width="1"/>
<rect x="1157" y="663" width="1" height="15" fill="#00ffff"/>
<rect x="1157" y="705" width="1" height="10" fill="#00ffff"/>
<rect x="1167.5" y="672.5" width="14" height="6" fill="none" stroke="#00ffff" stroke-width="1"/>
<rect x="1174" y="650" width="1" height="22" fill="#00ffff"/>
<rect x="1174" y="679" width="1" height="2" fill="#00ffff"/>
<text x="675" y="660" fill="#e0e000" font-size="12" font-family='"Noto Sans CJK SC","WenQuanYi Zen Hei",sans-serif'>买</text>
<text x="862" y="604" fill="#10b010" font-size="12" font-family='"Noto Sans CJK SC","WenQuanYi Zen Hei",sans-serif'>卖</text>
<polygon points="867.5,601 863.5,596.5 871.5,596.5" fill="#20e020" shape-rendering="geometricPrecision"/>
<rect x="866.5" y="592" width="2" height="5" fill="#20e020"/>
<text x="749" y="551.6" fill="#ff3838" font-size="13" font-family='"Liberation Sans","Noto Sans CJK SC",sans-serif' text-anchor="middle">2470</text>
<text x="868" y="670" fill="#20e8e8" font-size="13" font-family='"Liberation Sans","Noto Sans CJK SC",sans-serif' text-anchor="middle">2422</text>
<text x="1106" y="763" fill="#20e8e8" font-size="13" font-family='"Liberation Sans","Noto Sans CJK SC",sans-serif' text-anchor="middle">2378</text>
<text x="1174.5" y="646.6" fill="#ff3838" font-size="13" font-family='"Liberation Sans","Noto Sans CJK SC",sans-serif' text-anchor="middle">2425</text>
<circle cx="1157.8" cy="655.1" r="3.5" fill="none" stroke="#ff2020" stroke-width="1.1" shape-rendering="geometricPrecision"/>
<rect x="698" y="808" width="1" height="2" fill="#ff4040"/>
<rect x="715" y="807" width="1" height="3" fill="#ff4040"/>
<rect x="732" y="805" width="1" height="5" fill="#ff4040"/>
<rect x="749" y="806" width="1" height="4" fill="#ff4040"/>
<rect x="766" y="807" width="1" height="3" fill="#ff4040"/>
<rect x="783" y="807" width="1" height="3" fill="#ff4040"/>
<rect x="800" y="808" width="1" height="2" fill="#ff4040"/>
<rect x="817" y="808" width="1" height="2" fill="#ff4040"/>
<rect x="834" y="808" width="1" height="2" fill="#ff4040"/>
<rect x="851" y="809" width="1" height="2" fill="#00f0f0"/>
<rect x="868" y="809" width="1" height="5" fill="#00f0f0"/>
<rect x="885" y="809" width="1" height="5" fill="#00f0f0"/>
<rect x="902" y="809" width="1" height="6" fill="#00f0f0"/>
<rect x="919" y="809" width="1" height="7" fill="#00f0f0"/>
<rect x="936" y="809" width="1" height="8" fill="#00f0f0"/>
<rect x="953" y="809" width="1" height="8" fill="#00f0f0"/>
<rect x="970" y="809" width="1" height="7" fill="#00f0f0"/>
<rect x="987" y="809" width="1" height="7" fill="#00f0f0"/>
<rect x="1004" y="809" width="1" height="7" fill="#00f0f0"/>
<rect x="1021" y="809" width="1" height="7" fill="#00f0f0"/>
<rect x="1038" y="809" width="1" height="6" fill="#00f0f0"/>
<rect x="1055" y="809" width="1" height="7" fill="#00f0f0"/>
<rect x="1072" y="809" width="1" height="8" fill="#00f0f0"/>
<rect x="1089" y="809" width="1" height="8" fill="#00f0f0"/>
<rect x="1106" y="809" width="1" height="12" fill="#00f0f0"/>
<rect x="1123" y="809" width="1" height="14" fill="#00f0f0"/>
<rect x="1140" y="809" width="1" height="12" fill="#00f0f0"/>
<rect x="1157" y="809" width="1" height="8" fill="#00f0f0"/>
<rect x="1174" y="809" width="1" height="7" fill="#00f0f0"/>
<polyline points="681.5,800.2 698.5,799.8 715.5,799.2 732.5,798.7 749.5,797.9 766.5,797.4 783.5,797.0 800.5,796.8 817.5,796.8 834.5,796.8 851.5,797.0 868.5,797.4 885.5,797.9 902.5,798.7 919.5,799.2 936.5,799.8 953.5,800.7 970.5,801.5 987.5,802.1 1004.5,803.0 1021.5,803.9 1038.5,804.3 1055.5,804.9 1072.5,805.8 1089.5,806.7 1106.5,808.2 1123.5,809.9 1140.5,810.9 1157.5,811.8 1174.5,813.3" fill="none" stroke="#e0e000" stroke-width="1" shape-rendering="crispEdges"/>
<polyline points="681.5,799.8 698.5,798.9 715.5,797.7 732.5,795.5 749.5,795.5 766.5,796.1 783.5,796.1 800.5,796.1 817.5,796.4 834.5,795.5 851.5,797.0 868.5,798.9 885.5,799.6 902.5,800.7 919.5,802.1 936.5,803.3 953.5,803.5 970.5,804.3 987.5,804.9 1004.5,805.4 1021.5,806.2 1038.5,807.1 1055.5,807.7 1072.5,809.2 1089.5,810.9 1106.5,813.3 1123.5,815.7 1140.5,815.7 1157.5,815.7 1174.5,814.6" fill="none" stroke="#f0f0f0" stroke-width="1" shape-rendering="crispEdges"/>
<circle cx="681.9" cy="790.7" r="3.2" fill="#ff1010" shape-rendering="geometricPrecision"/>
<circle cx="681.0" cy="789.8000000000001" r="0.9" fill="#ffb0b0" shape-rendering="geometricPrecision"/>
<rect x="681" y="904" width="1" height="2" fill="#ff4040"/>
<rect x="698" y="902" width="1" height="4" fill="#ff4040"/>
<rect x="715" y="896" width="1" height="10" fill="#ff4040"/>
<rect x="732" y="890" width="1" height="16" fill="#ff4040"/>
<rect x="749" y="893" width="1" height="13" fill="#ff4040"/>
<rect x="766" y="894" width="1" height="12" fill="#ff4040"/>
<rect x="783" y="895" width="1" height="11" fill="#ff4040"/>
<rect x="800" y="900" width="1" height="6" fill="#ff4040"/>
<rect x="817" y="903" width="1" height="3" fill="#ff4040"/>
<rect x="834" y="902" width="1" height="4" fill="#ff4040"/>
<rect x="851" y="905" width="1" height="2" fill="#00f0f0"/>
<rect x="868" y="905" width="1" height="11" fill="#00f0f0"/>
<rect x="885" y="905" width="1" height="12" fill="#00f0f0"/>
<rect x="902" y="905" width="1" height="15" fill="#00f0f0"/>
<rect x="919" y="905" width="1" height="20" fill="#00f0f0"/>
<rect x="936" y="905" width="1" height="23" fill="#00f0f0"/>
<rect x="953" y="905" width="1" height="22" fill="#00f0f0"/>
<rect x="970" y="905" width="1" height="18" fill="#00f0f0"/>
<rect x="987" y="905" width="1" height="18" fill="#00f0f0"/>
<rect x="1004" y="905" width="1" height="18" fill="#00f0f0"/>
<rect x="1021" y="905" width="1" height="18" fill="#00f0f0"/>
<rect x="1038" y="905" width="1" height="16" fill="#00f0f0"/>
<rect x="1055" y="905" width="1" height="18" fill="#00f0f0"/>
<rect x="1072" y="905" width="1" height="20" fill="#00f0f0"/>
<rect x="1089" y="905" width="1" height="24" fill="#00f0f0"/>
<rect x="1106" y="905" width="1" height="35" fill="#00f0f0"/>
<rect x="1123" y="905" width="1" height="39" fill="#00f0f0"/>
<rect x="1140" y="905" width="1" height="33" fill="#00f0f0"/>
<rect x="1157" y="905" width="1" height="26" fill="#00f0f0"/>
<rect x="1174" y="905" width="1" height="18" fill="#00f0f0"/>
<polyline points="681.5,871.4 698.5,871.4 715.5,870.5 732.5,868.2 749.5,866.7 766.5,865.4 783.5,863.9 800.5,863.3 817.5,862.6 834.5,862.6 851.5,863.0 868.5,863.9 885.5,865.4 902.5,867.3 919.5,869.5 936.5,872.0 953.5,874.6 970.5,877.4 987.5,880.2 1004.5,882.1 1021.5,884.9 1038.5,887.3 1055.5,889.6 1072.5,891.5 1089.5,894.5 1106.5,898.6 1123.5,903.8 1140.5,908.0 1157.5,910.8 1174.5,913.0" fill="none" stroke="#e0e000" stroke-width="1" shape-rendering="crispEdges"/>
<polyline points="681.5,871.4 698.5,869.5 715.5,865.8 732.5,861.1 749.5,861.1 766.5,859.8 783.5,858.8 800.5,860.7 817.5,862.0 834.5,861.1 851.5,863.5 868.5,869.5 885.5,872.3 902.5,875.2 919.5,880.2 936.5,883.0 953.5,885.5 970.5,887.3 987.5,889.2 1004.5,891.1 1021.5,893.5 1038.5,894.8 1055.5,897.6 1072.5,901.4 1089.5,906.1 1106.5,915.5 1123.5,923.0 1140.5,924.8 1157.5,923.9 1174.5,921.5" fill="none" stroke="#f0f0f0" stroke-width="1" shape-rendering="crispEdges"/>
<circle cx="852.1" cy="855" r="3.2" fill="#ff1010" shape-rendering="geometricPrecision"/>
<circle cx="851.2" cy="854.1" r="0.9" fill="#ffb0b0" shape-rendering="geometricPrecision"/>
<polyline points="1312.0,651.2 1326.9,663.8 1345.2,681.0 1363.5,694.7 1379.5,702.0" fill="none" stroke="#e0e000" stroke-width="1" shape-rendering="crispEdges"/>
<polyline points="1719.8,540.1 1735.9,544.0 1751.9,553.9 1770.2,566.5 1788.5,576.1 1804.5,583.2" fill="none" stroke="#e0e000" stroke-width="1" shape-rendering="crispEdges"/>
<polyline points="1312.0,660.3 1329.2,702.5 1363.5,702.5" fill="none" stroke="#00b400" stroke-width="1" stroke-dasharray="3,3" shape-rendering="crispEdges"/>
<polyline points="1738.2,596.5 1805.7,596.5" fill="none" stroke="#00b400" stroke-width="1" stroke-dasharray="3,3" shape-rendering="crispEdges"/>
<polyline points="1379.5,750.5 1413.9,750.5 1417.3,733.6 1423.0,699.3 1431.0,669.5 1499.7,669.5 1516.9,646.5 1551.3,646.5 1567.3,611.8 1621.4,611.8 1631.7,616.5 1721.0,616.5" fill="none" stroke="#e0e000" stroke-width="1" stroke-dasharray="3,3" shape-rendering="crispEdges"/>
<polyline points="1397.9,750.1 1418.5,745.0 1436.8,742.3 1464.3,727.9 1478.0,713.0 1487.2,703.8 1503.2,690.1 1515.8,682.1 1532.9,664.9 1551.3,646.6 1568.7,632.9 1584.8,624.2 1600.8,612.7 1618.0,604.2 1632.8,602.6 1653.4,601.3 1669.5,596.7 1686.6,591.7 1702.7,587.5" fill="none" stroke="#e8e8e8" stroke-width="1" shape-rendering="geometricPrecision"/>
<rect x="1305" y="682" width="15" height="41" fill="#00ffff"/>
<rect x="1312" y="678" width="1" height="4" fill="#00ffff"/>
<rect x="1312" y="723" width="1" height="18" fill="#00ffff"/>
<rect x="1322.5" y="718.5" width="14" height="5" fill="none" stroke="#00ffff" stroke-width="1"/>
<rect x="1329" y="702" width="1" height="16" fill="#00ffff"/>
<rect x="1329" y="724" width="1" height="7" fill="#00ffff"/>
<rect x="1339" y="717" width="15" height="4" fill="#00ffff"/>
<rect x="1346" y="713" width="1" height="4" fill="#00ffff"/>
<rect x="1346" y="721" width="1" height="7" fill="#00ffff"/>
<rect x="1356.5" y="718.5" width="14" height="17" fill="none" stroke="#00ffff" stroke-width="1"/>
<rect x="1363" y="712" width="1" height="6" fill="#00ffff"/>
<rect x="1363" y="736" width="1" height="15" fill="#00ffff"/>
<rect x="1373.5" y="688.5" width="14" height="29" fill="none" stroke="#ff0000" stroke-width="1"/>
<rect x="1380" y="678" width="1" height="10" fill="#ff0000"/>
<rect x="1390.5" y="643.5" width="14" height="45" fill="none" stroke="#ff0000" stroke-width="1"/>
<rect x="1397" y="637" width="1" height="6" fill="#ff0000"/>
<rect x="1397" y="689" width="1" height="1" fill="#ff0000"/>
<rect x="1407" y="642" width="15" height="7" fill="#ff0000"/>
<rect x="1414" y="631" width="1" height="11" fill="#ff0000"/>
<rect x="1414" y="649" width="1" height="11" fill="#ff0000"/>
<rect x="1424" y="640" width="15" height="5" fill="#ff0000"/>
<rect x="1431" y="634" width="1" height="6" fill="#ff0000"/>
<rect x="1431" y="645" width="1" height="25" fill="#ff0000"/>
<rect x="1441.5" y="611.5" width="14" height="33" fill="none" stroke="#ff0000" stroke-width="1"/>
<rect x="1448" y="604" width="1" height="7" fill="#ff0000"/>
<rect x="1458.5" y="592.5" width="14" height="19" fill="none" stroke="#ff0000" stroke-width="1"/>
<rect x="1465" y="587" width="1" height="5" fill="#ff0000"/>
<rect x="1465" y="612" width="1" height="14" fill="#ff0000"/>
<rect x="1475" y="592" width="15" height="23" fill="#ff0000"/>
<rect x="1482" y="589" width="1" height="3" fill="#ff0000"/>
<rect x="1482" y="615" width="1" height="4" fill="#ff0000"/>
<rect x="1492" y="613" width="15" height="25" fill="#ff0000"/>
<rect x="1499" y="604" width="1" height="9" fill="#ff0000"/>
<rect x="1499" y="638" width="1" height="1" fill="#ff0000"/>
<rect x="1509" y="637" width="15" height="2" fill="#ff0000"/>
<rect x="1516" y="623" width="1" height="14" fill="#ff0000"/>
<rect x="1516" y="639" width="1" height="7" fill="#ff0000"/>
<rect x="1526.5" y="601.5" width="14" height="37" fill="none" stroke="#ff0000" stroke-width="1"/>
<rect x="1533" y="599" width="1" height="2" fill="#ff0000"/>
<rect x="1533" y="639" width="1" height="1" fill="#ff0000"/>
<rect x="1543.5" y="599.5" width="14" height="2" fill="none" stroke="#ff0000" stroke-width="1"/>
<rect x="1550" y="591" width="1" height="8" fill="#ff0000"/>
<rect x="1550" y="602" width="1" height="8" fill="#ff0000"/>
<rect x="1560.5" y="566.5" width="14" height="25" fill="none" stroke="#ff0000" stroke-width="1"/>
<rect x="1567" y="561" width="1" height="5" fill="#ff0000"/>
<rect x="1567" y="592" width="1" height="20" fill="#ff0000"/>
<rect x="1577" y="566" width="15" height="14" fill="#ff0000"/>
<rect x="1584" y="555" width="1" height="11" fill="#ff0000"/>
<rect x="1584" y="580" width="1" height="15" fill="#ff0000"/>
<rect x="1594" y="579" width="15" height="8" fill="#ff0000"/>
<rect x="1601" y="563" width="1" height="16" fill="#ff0000"/>
<rect x="1601" y="587" width="1" height="5" fill="#ff0000"/>
<rect x="1611.5" y="567.5" width="14" height="19" fill="none" stroke="#ff0000" stroke-width="1"/>
<rect x="1618" y="562" width="1" height="5" fill="#ff0000"/>
<rect x="1618" y="587" width="1" height="8" fill="#ff0000"/>
<rect x="1628" y="568" width="15" height="38" fill="#ff0000"/>
<rect x="1635" y="567" width="1" height="1" fill="#ff0000"/>
<rect x="1635" y="606" width="1" height="10" fill="#ff0000"/>
<rect x="1645.5" y="594.5" width="14" height="12" fill="none" stroke="#ff0000" stroke-width="1"/>
<rect x="1652" y="576" width="1" height="18" fill="#ff0000"/>
<rect x="1662" y="594" width="15" height="15" fill="#ff0000"/>
<rect x="1669" y="587" width="1" height="7" fill="#ff0000"/>
<rect x="1669" y="609" width="1" height="3" fill="#ff0000"/>
<rect x="1679.5" y="592.5" width="14" height="16" fill="none" stroke="#ff0000" stroke-width="1"/>
<rect x="1686" y="584" width="1" height="8" fill="#ff0000"/>
<rect x="1686" y="609" width="1" height="3" fill="#ff0000"/>
<rect x="1696" y="594" width="15" height="11" fill="#ff0000"/>
<rect x="1703" y="589" width="1" height="5" fill="#ff0000"/>
<rect x="1703" y="605" width="1" height="10" fill="#ff0000"/>
<rect x="1713.5" y="597.5" width="14" height="7" fill="none" stroke="#ff0000" stroke-width="1"/>
<rect x="1720" y="596" width="1" height="1" fill="#ff0000"/>
<rect x="1720" y="605" width="1" height="15" fill="#ff0000"/>
<rect x="1730" y="597" width="15" height="27" fill="#00ffff"/>
<rect x="1737" y="624" width="1" height="10" fill="#00ffff"/>
<rect x="1747" y="621" width="15" height="9" fill="#00ffff"/>
<rect x="1754" y="620" width="1" height="1" fill="#00ffff"/>
<rect x="1754" y="630" width="1" height="5" fill="#00ffff"/>
<rect x="1764" y="655" width="15" height="8" fill="#00ffff"/>
<rect x="1771" y="643" width="1" height="12" fill="#00ffff"/>
<rect x="1771" y="663" width="1" height="9" fill="#00ffff"/>
<rect x="1781.5" y="628.5" width="14" height="34" fill="none" stroke="#00ffff" stroke-width="1"/>
<rect x="1788" y="619" width="1" height="9" fill="#00ffff"/>
<rect x="1788" y="663" width="1" height="5" fill="#00ffff"/>
<rect x="1798.5" y="624.5" width="14" height="4" fill="none" stroke="#00ffff" stroke-width="1"/>
<rect x="1805" y="611" width="1" height="13" fill="#00ffff"/>
<rect x="1805" y="629" width="1" height="1" fill="#00ffff"/>
<text x="1373.8" y="721" fill="#e0e000" font-size="12" font-family='"Noto Sans CJK SC","WenQuanYi Zen Hei",sans-serif'>买</text>
<text x="1731.3" y="596" fill="#10b010" font-size="12" font-family='"Noto Sans CJK SC","WenQuanYi Zen Hei",sans-serif'>卖</text>
<polygon points="1499.5,600 1495.5,595.5 1503.5,595.5" fill="#20e020" shape-rendering="geometricPrecision"/>
<rect x="1498.5" y="591" width="2" height="5" fill="#20e020"/>
<polygon points="1635.5,564 1631.5,559.5 1639.5,559.5" fill="#20e020" shape-rendering="geometricPrecision"/>
<rect x="1634.5" y="555" width="2" height="5" fill="#20e020"/>
<text x="1363" y="762.2" fill="#20e8e8" font-size="13" font-family='"Liberation Sans","Noto Sans CJK SC",sans-serif' text-anchor="middle">2315</text>
<text x="1465" y="584.3" fill="#ff3838" font-size="13" font-family='"Liberation Sans","Noto Sans CJK SC",sans-serif' text-anchor="middle">2444</text>
<text x="1584" y="552.7" fill="#ff3838" font-size="13" font-family='"Liberation Sans","Noto Sans CJK SC",sans-serif' text-anchor="middle">2470</text>
<text x="1771" y="683.7" fill="#20e8e8" font-size="13" font-family='"Liberation Sans","Noto Sans CJK SC",sans-serif' text-anchor="middle">2378</text>
<rect x="1312" y="807" width="1" height="11" fill="#00f0f0"/>
<rect x="1329" y="807" width="1" height="13" fill="#00f0f0"/>
<rect x="1346" y="807" width="1" height="15" fill="#00f0f0"/>
<rect x="1363" y="807" width="1" height="15" fill="#00f0f0"/>
<rect x="1380" y="807" width="1" height="11" fill="#00f0f0"/>
<rect x="1397" y="807" width="1" height="4" fill="#00f0f0"/>
<rect x="1414" y="806" width="1" height="2" fill="#ff4040"/>
<rect x="1431" y="803" width="1" height="5" fill="#ff4040"/>
<rect x="1448" y="798" width="1" height="10" fill="#ff4040"/>
<rect x="1465" y="794" width="1" height="14" fill="#ff4040"/>
<rect x="1482" y="794" width="1" height="14" fill="#ff4040"/>
<rect x="1499" y="798" width="1" height="10" fill="#ff4040"/>
<rect x="1516" y="801" width="1" height="7" fill="#ff4040"/>
<rect x="1533" y="799" width="1" height="9" fill="#ff4040"/>
<rect x="1550" y="799" width="1" height="9" fill="#ff4040"/>
<rect x="1567" y="796" width="1" height="12" fill="#ff4040"/>
<rect x="1584" y="796" width="1" height="12" fill="#ff4040"/>
<rect x="1601" y="798" width="1" height="10" fill="#ff4040"/>
<rect x="1618" y="798" width="1" height="10" fill="#ff4040"/>
<rect x="1635" y="803" width="1" height="5" fill="#ff4040"/>
<rect x="1652" y="805" width="1" height="3" fill="#ff4040"/>
<rect x="1669" y="807" width="1" height="2" fill="#00f0f0"/>
<rect x="1686" y="807" width="1" height="2" fill="#00f0f0"/>
<rect x="1703" y="807" width="1" height="4" fill="#00f0f0"/>
<rect x="1720" y="807" width="1" height="5" fill="#00f0f0"/>
<rect x="1737" y="807" width="1" height="8" fill="#00f0f0"/>
<rect x="1754" y="807" width="1" height="11" fill="#00f0f0"/>
<rect x="1771" y="807" width="1" height="16" fill="#00f0f0"/>
<rect x="1788" y="807" width="1" height="14" fill="#00f0f0"/>
<rect x="1805" y="807" width="1" height="13" fill="#00f0f0"/>
<polyline points="1312.5,797.0 1329.5,798.9 1346.5,800.7 1363.5,802.1 1380.5,803.9 1397.5,803.9 1414.5,803.5 1431.5,803.0 1448.5,801.7 1465.5,800.6 1482.5,799.2 1499.5,797.7 1516.5,797.0 1533.5,795.9 1550.5,794.6 1567.5,793.2 1584.5,791.7 1601.5,790.4 1618.5,789.3 1635.5,788.6 1652.5,788.0 1669.5,788.4 1686.5,788.9 1703.5,788.9 1720.5,789.9 1737.5,790.8 1754.5,792.3 1771.5,793.6 1788.5,795.5 1805.5,797.0" fill="none" stroke="#e0e000" stroke-width="1" shape-rendering="crispEdges"/>
<polyline points="1312.5,801.7 1329.5,804.3 1346.5,807.1 1363.5,808.6 1380.5,808.2 1397.5,805.8 1414.5,803.0 1431.5,800.2 1448.5,797.7 1465.5,794.2 1482.5,791.7 1499.5,792.7 1516.5,793.1 1533.5,791.7 1550.5,789.9 1567.5,787.1 1584.5,786.1 1601.5,785.7 1618.5,784.8 1635.5,785.2 1652.5,787.1 1669.5,788.4 1686.5,789.5 1703.5,790.4 1720.5,792.3 1737.5,794.9 1754.5,797.7 1771.5,800.6 1788.5,802.6 1805.5,803.0" fill="none" stroke="#f0f0f0" stroke-width="1" shape-rendering="crispEdges"/>
<circle cx="1415" cy="794.1" r="3.2" fill="#ff1010" shape-rendering="geometricPrecision"/>
<circle cx="1414.1" cy="793.2" r="0.9" fill="#ffb0b0" shape-rendering="geometricPrecision"/>
<rect x="1312" y="910" width="1" height="23" fill="#00f0f0"/>
<rect x="1329" y="910" width="1" height="30" fill="#00f0f0"/>
<rect x="1346" y="910" width="1" height="33" fill="#00f0f0"/>
<rect x="1363" y="910" width="1" height="33" fill="#00f0f0"/>
<rect x="1380" y="910" width="1" height="25" fill="#00f0f0"/>
<rect x="1397" y="910" width="1" height="7" fill="#00f0f0"/>
<rect x="1414" y="908" width="1" height="3" fill="#ff4040"/>
<rect x="1431" y="902" width="1" height="9" fill="#ff4040"/>
<rect x="1448" y="890" width="1" height="21" fill="#ff4040"/>
<rect x="1465" y="880" width="1" height="31" fill="#ff4040"/>
<rect x="1482" y="881" width="1" height="30" fill="#ff4040"/>
<rect x="1499" y="888" width="1" height="23" fill="#ff4040"/>
<rect x="1516" y="895" width="1" height="16" fill="#ff4040"/>
<rect x="1533" y="892" width="1" height="19" fill="#ff4040"/>
<rect x="1550" y="891" width="1" height="20" fill="#ff4040"/>
<rect x="1567" y="885" width="1" height="26" fill="#ff4040"/>
<rect x="1584" y="885" width="1" height="26" fill="#ff4040"/>
<rect x="1601" y="889" width="1" height="22" fill="#ff4040"/>
<rect x="1618" y="889" width="1" height="22" fill="#ff4040"/>
<rect x="1635" y="900" width="1" height="11" fill="#ff4040"/>
<rect x="1652" y="906" width="1" height="5" fill="#ff4040"/>
<rect x="1669" y="910" width="1" height="3" fill="#00f0f0"/>
<rect x="1686" y="910" width="1" height="5" fill="#00f0f0"/>
<rect x="1703" y="910" width="1" height="9" fill="#00f0f0"/>
<rect x="1720" y="910" width="1" height="11" fill="#00f0f0"/>
<rect x="1737" y="910" width="1" height="18" fill="#00f0f0"/>
<rect x="1754" y="910" width="1" height="24" fill="#00f0f0"/>
<rect x="1771" y="910" width="1" height="34" fill="#00f0f0"/>
<rect x="1788" y="910" width="1" height="32" fill="#00f0f0"/>
<rect x="1805" y="910" width="1" height="28" fill="#00f0f0"/>
<polyline points="1312.5,887.7 1329.5,890.7 1346.5,894.5 1363.5,897.6 1380.5,900.8 1397.5,902.9 1414.5,902.9 1431.5,901.4 1448.5,898.6 1465.5,894.8 1482.5,891.1 1499.5,888.3 1516.5,886.4 1533.5,884.5 1550.5,881.7 1567.5,878.9 1584.5,876.1 1601.5,873.3 1618.5,870.5 1635.5,868.6 1652.5,867.7 1669.5,868.2 1686.5,869.0 1703.5,870.1 1720.5,872.0 1737.5,874.2 1754.5,877.6 1771.5,880.8 1788.5,884.0 1805.5,888.3" fill="none" stroke="#e0e000" stroke-width="1" shape-rendering="crispEdges"/>
<polyline points="1312.5,899.0 1329.5,904.6 1346.5,910.2 1363.5,914.5 1380.5,914.5 1397.5,907.6 1414.5,901.4 1431.5,896.7 1448.5,888.8 1465.5,879.8 1482.5,877.0 1499.5,877.0 1516.5,878.9 1533.5,875.2 1550.5,872.0 1567.5,865.8 1584.5,863.0 1601.5,862.0 1618.5,859.2 1635.5,862.0 1652.5,864.8 1669.5,868.6 1686.5,871.4 1703.5,874.2 1720.5,877.0 1737.5,882.7 1754.5,889.2 1771.5,897.6 1788.5,900.1 1805.5,902.0" fill="none" stroke="#f0f0f0" stroke-width="1" shape-rendering="crispEdges"/>
<circle cx="1669.9" cy="860" r="3.2" fill="#ff1010" shape-rendering="geometricPrecision"/>
<circle cx="1669.0" cy="859.1" r="0.9" fill="#ffb0b0" shape-rendering="geometricPrecision"/>
<line x1="0" y1="42.5" x2="618" y2="42.5" stroke="#c81810" stroke-width="1"/>
<line x1="0" y1="500.5" x2="618" y2="500.5" stroke="#c81810" stroke-width="1"/>
<line x1="620.5" y1="40" x2="620.5" y2="968" stroke="#808080" stroke-width="1"/>
<line x1="1251.5" y1="40" x2="1251.5" y2="968" stroke="#808080" stroke-width="1"/>
<line x1="0" y1="503.5" x2="1870" y2="503.5" stroke="#808080" stroke-width="1"/>
<rect x="0" y="968" width="1870" height="19" fill="#23262b"/>
<line x1="0" y1="968.5" x2="1870" y2="968.5" stroke="#2a2d32" stroke-width="1"/>
<text x="-4" y="985.5" fill="#f08020" font-size="12" font-family='"Noto Sans CJK SC","WenQuanYi Zen Hei",sans-serif'>我的板块</text>
<text x="57.5" y="987.5" fill="#d0d0d0" font-size="17" font-family='"Liberation Sans","Noto Sans CJK SC",sans-serif' font-weight="bold">+</text>
<rect x="1820" y="960" width="45" height="27" fill="#1f2125"/>
<rect x="1865" y="960" width="5" height="27" fill="#4a4c54"/>
<rect x="1829.5" y="977" width="28" height="16" rx="5" fill="#2c2e33"/>
<polygon points="1838,981 1846,985 1838,989" fill="#4a4c50"/>
<rect x="1718" y="974" width="102" height="13" fill="#f4f6fa"/>
<line x1="1718" y1="974.5" x2="1820" y2="974.5" stroke="#c8d4e8" stroke-width="1"/>
<rect x="1697" y="972.5" width="22" height="20" rx="4" fill="#f26522" transform="rotate(-14 1708 982)" shape-rendering="geometricPrecision"/>
<text x="1701.5" y="990" fill="#ffffff" font-size="17" font-family='"Liberation Sans","Noto Sans CJK SC",sans-serif' font-weight="bold">S</text>
<text x="1730" y="990" fill="#1a6fd0" font-size="13" font-family='"Noto Sans CJK SC","WenQuanYi Zen Hei",sans-serif' font-weight="bold">中</text>
<path d="M1762,977 C1757,981 1757,987 1762,989 C1760,985 1760,981 1762,977 Z" fill="#1a6fd0" shape-rendering="geometricPrecision"/>
<circle cx="1778" cy="983" r="1.6" fill="none" stroke="#1a6fd0" stroke-width="1" shape-rendering="geometricPrecision"/>
<rect x="1782" y="985" width="2" height="2" fill="#1a6fd0"/>
<rect x="1795.5" y="980.5" width="14" height="8" fill="none" stroke="#1a6fd0" stroke-width="1.2"/>
<rect x="1797.5" y="983" width="1.5" height="1.5" fill="#1a6fd0"/>
<rect x="1800.5" y="983" width="1.5" height="1.5" fill="#1a6fd0"/>
<rect x="1803.5" y="983" width="1.5" height="1.5" fill="#1a6fd0"/>
<rect x="1806.5" y="983" width="1.5" height="1.5" fill="#1a6fd0"/>
<circle cx="1803.5" cy="974" r="1.5" fill="#f08020" shape-rendering="geometricPrecision"/>
</svg>
</body></html>
